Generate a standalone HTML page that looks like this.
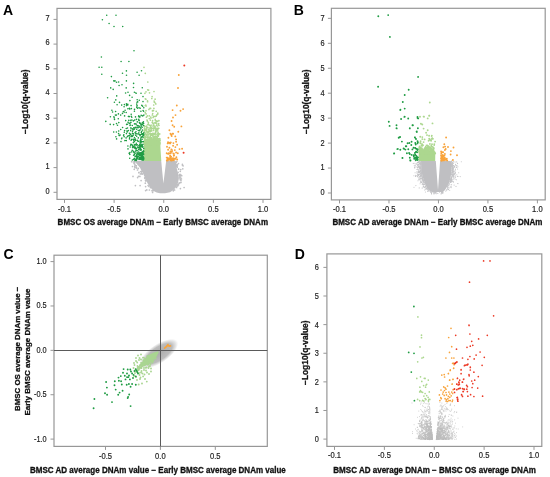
<!DOCTYPE html><html><head><meta charset="utf-8"><style>html,body{margin:0;padding:0;background:#fff;width:550px;height:477px;overflow:hidden}svg{display:block;will-change:transform}text{font-family:"Liberation Sans", sans-serif}</style></head><body>
<svg width="550" height="477" viewBox="0 0 550 477">
<rect width="550" height="477" fill="#fff"/>
<polygon fill="#bfbfc2" points="134.8,160.8 136.4,163.5 138.6,166.0 140.2,168.0 141.5,171.0 142.8,173.1 144.2,176.0 145.4,179.0 146.9,182.0 148.4,184.8 150.4,187.6 152.6,189.9 154.6,191.4 156.6,192.4 160.0,193.2 165.0,193.2 170.0,192.2 173.8,189.8 176.4,186.5 178.0,183.0 178.8,179.0 178.6,175.0 177.4,171.0 176.2,166.0 175.8,160.8 166.2,160.8 163.4,183.5 161.2,160.8"/>
<path stroke="#bfbfc2" stroke-width="1.70" stroke-linecap="round" fill="none" d="M133.0 176.4h0M137.6 177.6h0M139.9 176.4h0M141.1 180.6h0M135.4 185.6h0M140.1 185.6h0M146.8 189.9h0M152.6 192.4h0M176.9 161.3h0M178.5 163.6h0M182.4 164.3h0M180.8 169.5h0M178.6 169.2h0M182.8 168.8h0M177.5 175.0h0M180.0 176.5h0M181.0 180.5h0M179.0 183.5h0M180.4 188.6h0M184.1 187.5h0M133.5 162.0h0M134.0 163.5h0M135.0 165.5h0M136.5 167.5h0M132.5 166.5h0M137.5 170.0h0M139.0 172.5h0M134.9 164.4h0M176.6 166.3h0M180.2 179.7h0M141.6 171.5h0M177.4 165.8h0M177.2 167.3h0M142.1 173.7h0M138.5 176.3h0M176.4 165.1h0M144.9 178.2h0M181.0 182.4h0M181.7 175.7h0M145.6 186.6h0M144.7 177.9h0M136.4 165.8h0M134.7 166.7h0M141.4 173.1h0M180.8 175.4h0M134.8 162.4h0M176.9 186.0h0M138.3 168.4h0M179.7 174.6h0M174.2 189.8h0M180.7 174.9h0M149.4 190.0h0M176.6 165.2h0M182.5 165.2h0M134.8 161.7h0M173.3 190.8h0M135.6 165.6h0M138.8 172.7h0M145.4 180.1h0M178.7 169.0h0M141.7 173.9h0M180.7 177.8h0M178.1 172.3h0M179.0 183.2h0M145.3 183.2h0M179.4 175.7h0M176.3 187.4h0M136.5 168.1h0M134.9 167.6h0M176.6 187.4h0M179.9 182.8h0M180.0 174.3h0M176.0 162.7h0M145.9 181.1h0M134.2 169.3h0M177.7 184.6h0M148.9 186.3h0M153.5 190.6h0M176.3 162.6h0M177.2 164.6h0M150.4 187.6h0M181.4 178.9h0M140.6 171.5h0M180.3 171.3h0M134.2 161.1h0M131.6 161.7h0M183.1 165.8h0M142.3 174.1h0M140.4 174.0h0M152.0 190.7h0M146.1 180.6h0M145.6 190.6h0M177.6 185.9h0M148.1 185.5h0M179.3 177.9h0M174.6 190.0h0M178.4 184.9h0"/>
<polygon fill="#acd78f" points="143.9,160.9 143.9,141.0 145.5,139.0 147.0,141.0 149.0,138.0 151.0,140.0 153.0,137.5 155.0,139.5 156.5,137.0 158.0,139.0 159.6,138.0 160.2,142.0 160.6,150.0 161.3,160.9"/>
<path stroke="#acd78f" stroke-width="1.70" stroke-linecap="round" fill="none" d="M149.0 142.7h0M155.6 127.9h0M146.0 126.3h0M152.6 144.3h0M151.7 133.8h0M159.8 138.7h0M155.5 139.5h0M150.1 143.6h0M156.4 130.2h0M156.7 123.8h0M151.1 143.7h0M158.0 132.8h0M146.7 129.6h0M150.4 143.0h0M150.5 142.9h0M147.4 139.6h0M144.6 134.8h0M149.9 141.5h0M154.9 143.1h0M155.7 131.7h0M150.6 133.5h0M147.1 137.4h0M146.2 106.0h0M157.4 135.5h0M159.3 139.0h0M154.4 102.2h0M154.2 134.6h0M155.5 143.5h0M150.1 127.3h0M147.6 132.8h0M158.3 133.7h0M144.4 131.9h0M152.5 111.0h0M157.7 142.7h0M155.9 143.4h0M160.1 140.3h0M144.1 137.0h0M150.0 139.0h0M146.5 131.9h0M152.0 134.5h0M147.5 100.9h0M153.9 108.4h0M158.1 132.4h0M144.6 138.5h0M155.4 128.1h0M146.3 139.6h0M148.0 140.9h0M155.4 140.9h0M144.2 130.7h0M153.4 134.5h0M148.9 109.4h0M157.8 113.0h0M145.8 143.6h0M158.4 136.1h0M158.2 128.3h0M155.5 136.1h0M151.5 127.7h0M155.1 141.0h0M158.2 144.7h0M157.2 138.5h0M153.1 143.0h0M155.7 143.1h0M144.4 126.8h0M148.3 142.9h0M155.8 103.9h0M151.5 129.0h0M144.4 134.9h0M153.9 125.0h0M147.7 89.8h0M150.1 128.6h0M151.9 141.3h0M148.4 140.5h0M152.1 96.6h0M155.1 116.4h0M150.2 139.3h0M145.3 98.8h0M150.8 126.1h0M152.6 142.0h0M146.7 134.9h0M153.5 128.0h0M153.8 138.3h0M148.5 141.6h0M144.8 140.0h0M155.1 116.3h0M152.9 126.0h0M155.4 133.2h0M147.6 101.7h0M144.2 125.9h0M150.2 142.8h0M156.0 143.0h0M158.9 120.7h0M148.6 90.1h0M146.9 127.1h0M159.9 143.2h0M146.5 126.9h0M155.2 119.3h0M147.2 120.4h0M144.4 128.7h0M154.4 139.2h0M149.2 125.1h0M146.5 141.0h0M156.1 131.4h0M151.5 140.7h0M154.8 102.4h0M145.5 142.8h0M148.8 131.3h0M153.0 135.2h0M146.9 131.1h0M152.0 142.4h0M151.9 144.4h0M149.9 108.3h0M147.8 139.7h0M154.8 138.4h0M148.1 140.3h0M150.4 135.5h0M144.7 137.3h0M157.3 137.3h0M151.9 139.1h0M149.2 137.6h0M159.0 125.3h0M156.2 111.3h0M156.0 140.9h0M147.0 139.7h0M156.9 137.2h0M152.7 113.6h0M157.5 126.0h0M149.6 131.2h0M149.3 115.8h0M152.2 141.7h0M147.3 120.9h0M156.5 142.0h0M154.0 126.0h0M153.3 140.4h0M156.7 136.7h0M145.5 137.5h0M154.1 143.6h0M144.9 93.3h0M156.0 123.2h0M155.4 143.2h0M150.7 141.7h0M157.9 144.5h0M149.3 130.7h0M145.3 140.9h0M147.6 124.6h0M150.2 140.3h0M157.7 130.8h0M146.4 126.1h0M148.2 134.1h0M149.8 141.0h0M146.2 134.1h0M146.7 140.9h0M147.7 139.5h0M153.0 136.4h0M145.6 139.9h0M155.6 129.9h0M156.9 120.8h0M153.5 141.9h0M150.1 142.0h0M153.2 136.9h0M147.4 115.9h0M159.7 144.5h0M151.2 143.2h0M148.5 137.9h0M149.4 143.0h0M155.2 142.3h0M150.0 139.1h0M154.0 133.3h0M151.0 118.1h0M145.3 105.6h0M152.7 141.3h0M158.4 124.2h0M156.2 116.1h0M145.5 139.3h0M153.2 144.4h0M157.8 113.9h0M145.8 105.0h0M153.9 128.7h0M148.6 143.7h0M158.7 123.6h0M158.8 128.3h0M150.4 125.6h0M157.3 137.0h0M152.6 120.7h0M151.1 125.2h0M155.9 132.1h0M148.2 140.6h0M156.0 134.3h0M156.8 129.3h0M144.5 142.8h0M155.4 143.0h0M156.1 138.8h0M149.3 143.5h0M154.1 101.1h0M150.6 108.4h0M150.3 130.9h0M155.5 122.8h0M153.7 105.0h0M148.0 136.5h0M153.9 108.3h0M157.5 133.8h0M151.4 144.6h0M151.8 98.5h0M150.3 136.8h0M145.3 142.4h0M151.7 135.1h0M148.3 124.0h0M149.3 118.5h0M152.2 122.4h0M153.6 130.4h0M151.6 143.2h0M144.5 141.1h0M146.9 134.8h0M144.2 138.5h0M148.7 140.3h0M158.8 144.4h0M157.8 129.2h0M145.5 140.6h0M154.4 136.9h0M150.8 117.0h0M149.9 133.9h0M150.3 120.1h0M148.2 135.0h0M154.2 122.9h0M147.0 120.1h0M152.5 135.4h0M147.6 132.1h0M145.9 99.2h0M157.2 144.8h0M144.5 130.7h0M145.1 141.9h0M150.8 138.6h0M159.0 143.7h0M156.1 129.0h0M145.9 129.1h0M152.5 110.5h0M151.6 137.6h0M151.4 131.0h0M159.9 138.9h0M153.5 110.6h0M151.5 140.0h0M153.9 127.9h0M146.1 113.9h0M146.2 134.4h0M144.7 129.8h0M145.4 133.3h0M152.5 128.5h0M150.9 138.7h0M155.0 133.8h0M145.3 136.9h0M148.3 122.4h0M151.8 128.1h0M155.0 126.6h0M147.2 142.6h0M153.6 116.4h0M160.1 142.9h0M148.5 132.5h0M158.3 135.8h0M146.5 128.3h0M144.1 136.8h0M143.9 142.7h0M150.3 144.4h0M146.0 136.0h0M153.3 134.0h0M159.7 133.9h0M149.5 140.7h0M151.8 130.8h0M149.6 142.0h0M146.9 143.3h0M145.2 112.7h0M148.4 122.6h0M157.6 121.3h0M158.0 138.8h0M153.2 140.8h0M156.3 143.2h0M156.0 141.9h0M149.4 137.7h0M149.8 133.4h0M158.7 134.7h0M158.1 144.1h0M158.2 140.3h0M148.7 131.5h0M149.9 137.9h0M145.2 130.4h0M155.2 137.5h0M148.7 129.6h0M159.7 141.4h0M153.6 136.9h0M158.3 138.6h0M151.9 139.8h0M146.3 140.3h0M150.3 134.9h0M145.4 143.7h0M159.1 141.8h0M151.5 143.8h0M147.9 132.0h0M153.1 117.4h0M150.4 140.2h0M155.1 99.2h0M149.8 133.6h0M147.2 143.5h0M153.0 123.7h0M157.3 128.4h0M147.9 127.6h0M150.4 144.2h0M150.5 131.4h0M147.5 132.3h0M156.8 114.9h0M156.4 125.5h0M145.9 130.3h0M146.4 117.2h0M149.8 143.0h0M156.7 121.4h0M150.9 130.3h0M152.0 133.9h0M145.3 136.7h0M151.2 143.5h0M156.3 121.7h0M146.2 144.7h0M155.3 120.4h0M151.0 141.8h0M145.7 142.3h0M152.3 115.0h0M152.7 133.3h0M153.6 138.5h0M152.7 144.3h0M146.0 110.7h0M149.1 129.0h0M157.7 143.7h0M144.9 138.7h0M151.4 134.0h0M144.0 67.3h0M145.3 73.3h0M147.8 82.0h0M154.0 91.5h0M146.0 91.8h0M149.5 92.8h0"/>
<path stroke="#1f9c43" stroke-width="1.60" stroke-linecap="round" fill="none" d="M128.3 130.6h0M129.8 123.4h0M138.3 137.9h0M143.0 144.4h0M138.3 147.5h0M142.7 157.7h0M141.3 152.5h0M129.6 137.8h0M138.1 127.8h0M140.0 129.9h0M133.6 146.9h0M135.1 153.5h0M138.3 138.0h0M135.5 116.9h0M141.6 134.0h0M135.6 140.4h0M142.4 151.7h0M143.7 134.3h0M132.7 128.9h0M140.9 111.3h0M139.2 130.7h0M138.8 116.4h0M136.5 159.6h0M137.1 152.9h0M136.5 155.3h0M142.8 160.1h0M134.1 152.7h0M139.8 144.5h0M137.9 147.7h0M128.5 116.5h0M126.9 131.0h0M140.0 146.8h0M126.3 140.6h0M120.7 129.5h0M143.0 160.2h0M141.8 157.7h0M118.8 122.6h0M129.8 109.1h0M132.2 150.4h0M131.7 135.9h0M141.3 159.5h0M138.8 134.1h0M127.8 104.9h0M140.3 140.3h0M138.6 116.3h0M140.3 134.9h0M140.9 140.7h0M129.9 152.5h0M134.8 147.2h0M142.0 159.8h0M124.6 130.6h0M140.2 108.2h0M121.9 138.0h0M141.7 154.3h0M142.7 115.9h0M123.8 134.7h0M138.5 141.3h0M143.6 154.6h0M139.9 147.3h0M135.8 147.9h0M118.6 133.6h0M134.5 158.4h0M139.5 154.3h0M142.5 146.4h0M136.7 107.2h0M110.2 124.4h0M139.7 148.7h0M142.2 139.2h0M124.2 136.8h0M139.7 158.7h0M137.2 99.8h0M129.8 154.4h0M134.5 123.9h0M113.6 124.6h0M128.8 120.4h0M136.4 150.4h0M140.3 141.4h0M134.3 141.6h0M141.8 136.7h0M142.9 146.9h0M137.0 158.4h0M117.5 125.2h0M121.0 141.6h0M138.0 154.0h0M131.4 108.6h0M142.5 155.0h0M131.2 114.2h0M143.3 156.8h0M143.6 135.5h0M136.1 159.9h0M139.9 158.3h0M140.8 146.8h0M142.7 153.4h0M116.5 123.6h0M136.2 159.0h0M136.1 150.4h0M139.7 146.1h0M131.1 140.3h0M129.9 133.9h0M140.1 135.7h0M118.7 131.0h0M133.9 146.5h0M136.7 129.3h0M142.4 136.2h0M127.5 128.0h0M130.7 134.4h0M141.2 154.0h0M123.6 135.5h0M126.2 112.5h0M130.6 130.6h0M138.6 147.2h0M131.7 152.0h0M142.5 133.7h0M143.4 154.3h0M137.1 153.8h0M143.9 158.1h0M142.3 147.2h0M140.8 153.9h0M136.4 160.4h0M140.0 159.3h0M121.6 138.7h0M142.4 124.5h0M134.6 145.1h0M127.8 104.2h0M129.9 100.6h0M134.7 128.8h0M132.4 160.0h0M139.6 157.6h0M140.0 144.3h0M135.1 132.5h0M135.1 147.1h0M139.3 126.9h0M138.6 149.4h0M140.5 154.1h0M130.6 145.2h0M136.4 155.6h0M136.5 119.4h0M140.6 148.6h0M140.8 146.2h0M137.3 144.9h0M135.0 156.2h0M135.3 127.4h0M143.3 141.5h0M136.3 156.6h0M140.8 124.9h0M137.8 158.8h0M136.7 136.2h0M133.1 135.5h0M126.2 128.5h0M125.1 110.2h0M140.0 152.7h0M131.3 116.3h0M141.7 131.5h0M133.8 127.7h0M129.9 136.0h0M128.0 122.3h0M141.8 105.4h0M141.6 134.3h0M137.9 153.2h0M141.2 125.2h0M136.3 157.0h0M132.5 131.5h0M140.5 142.7h0M141.8 157.7h0M122.6 127.5h0M135.1 159.8h0M143.9 115.1h0M138.1 156.3h0M140.9 128.5h0M136.4 148.5h0M142.8 146.5h0M136.5 119.2h0M142.1 141.7h0M130.9 127.9h0M142.5 153.3h0M139.9 146.9h0M132.2 136.4h0M129.1 123.3h0M133.8 140.6h0M131.7 139.5h0M137.3 140.3h0M140.8 153.4h0M135.5 151.7h0M140.9 158.9h0M136.7 104.1h0M136.0 150.5h0M143.1 110.5h0M143.6 159.4h0M139.9 149.1h0M139.1 153.7h0M140.3 147.3h0M138.4 154.5h0M134.8 144.6h0M139.8 134.9h0M133.4 142.6h0M137.6 147.0h0M127.4 136.6h0M140.5 123.2h0M134.4 154.6h0M141.1 149.9h0M134.5 109.4h0M143.6 111.2h0M126.1 137.9h0M139.9 116.9h0M142.7 106.3h0M143.4 157.1h0M135.0 160.2h0M125.7 120.6h0M128.4 116.5h0M133.0 130.1h0M142.9 159.0h0M134.6 139.5h0M133.6 159.2h0M141.8 158.5h0M139.4 122.5h0M142.4 156.5h0M142.0 156.4h0M140.5 146.1h0M143.7 158.8h0M142.0 156.8h0M143.5 159.1h0M130.9 144.2h0M133.6 151.2h0M143.4 152.0h0M134.4 111.3h0M140.5 127.3h0M129.1 153.3h0M143.4 121.7h0M131.8 117.3h0M137.0 102.3h0M143.1 156.5h0M130.7 120.2h0M143.2 135.0h0M140.2 155.4h0M140.2 150.3h0M133.5 139.3h0M129.5 138.9h0M139.6 123.2h0M137.1 133.9h0M139.1 116.9h0M139.4 130.8h0M140.3 157.6h0M140.5 155.6h0M135.0 160.6h0M137.3 125.6h0M141.1 137.4h0M142.0 153.3h0M138.6 156.7h0M137.7 101.9h0M134.1 152.5h0M143.7 148.6h0M127.9 146.0h0M143.0 101.6h0M132.5 136.3h0M142.9 134.8h0M143.2 154.5h0M132.6 147.6h0M132.5 133.4h0M140.0 142.8h0M141.5 137.3h0M131.1 128.7h0M130.9 122.4h0M126.5 105.6h0M120.1 135.0h0M138.8 119.4h0M132.5 145.8h0M141.2 126.7h0M142.0 158.6h0M134.2 145.0h0M119.6 135.5h0M142.1 153.9h0M135.8 133.6h0M131.9 120.0h0M140.8 140.4h0M138.1 125.8h0M129.4 133.3h0M141.4 149.9h0M127.4 124.3h0M137.1 105.6h0M134.3 129.3h0M142.8 133.9h0M140.9 159.3h0M143.5 150.8h0M143.8 107.8h0M141.2 159.6h0M132.5 145.9h0M132.1 97.2h0M130.4 125.0h0M129.3 135.7h0M141.8 155.4h0M142.4 122.8h0M140.3 149.5h0M141.9 124.1h0M143.6 154.1h0M141.0 146.4h0M137.5 108.3h0M119.1 135.4h0M134.5 137.6h0M143.6 123.4h0M129.4 108.3h0M140.5 154.9h0M136.6 156.3h0M143.8 132.9h0M141.9 124.4h0M136.9 127.4h0M136.8 154.6h0M135.9 144.9h0M141.2 115.4h0M143.7 151.4h0M132.9 133.7h0M142.4 159.9h0M140.7 138.9h0M136.9 156.9h0M127.9 108.8h0M143.7 158.3h0M127.2 131.9h0M142.4 130.1h0M126.6 124.4h0M129.6 95.4h0M132.3 125.5h0M130.2 147.0h0M140.6 155.4h0M143.0 133.8h0M133.6 133.9h0M134.4 147.9h0M128.0 148.9h0M116.4 132.0h0M139.0 126.1h0M139.6 144.7h0M136.0 131.7h0M142.9 158.2h0M143.3 157.7h0M128.2 135.7h0M115.9 136.8h0M126.4 103.7h0M135.6 135.3h0M139.3 100.2h0M143.5 125.5h0M116.6 138.9h0M138.9 159.2h0M143.2 152.9h0M136.6 145.0h0M126.7 104.5h0M137.3 121.9h0M133.7 151.9h0M129.7 158.3h0M141.2 157.1h0M130.0 125.4h0M139.9 155.1h0M136.3 143.2h0M139.5 155.5h0M141.3 132.4h0M134.7 120.1h0M142.0 146.6h0M142.2 145.3h0M126.4 133.6h0M131.9 139.4h0M124.3 132.2h0M143.1 137.3h0M138.8 120.5h0M133.4 120.9h0M142.2 127.3h0M138.8 132.9h0M141.3 158.8h0M140.5 158.7h0M131.1 105.6h0M141.0 142.9h0M139.4 158.4h0M139.8 147.4h0M143.0 96.6h0M137.6 150.7h0M141.1 141.1h0M138.9 145.5h0M124.9 140.6h0M136.1 124.5h0M135.9 123.8h0M139.0 107.7h0M135.5 148.8h0M131.9 144.6h0M135.4 139.1h0M140.7 145.0h0M137.5 157.5h0M133.6 155.2h0M139.9 158.7h0M139.2 120.5h0M131.4 136.4h0M113.7 132.0h0M143.2 160.3h0M137.0 106.1h0M141.5 144.7h0M138.0 141.5h0M143.0 156.5h0M138.7 152.0h0M137.3 156.0h0M140.2 142.8h0M129.4 116.6h0M131.6 151.8h0M141.1 145.5h0M138.3 130.5h0M138.8 115.9h0M106.7 15.3h0M116.0 15.3h0M102.4 19.8h0M109.1 23.5h0M114.0 26.5h0M122.7 26.5h0M134.0 50.7h0M101.4 57.0h0M121.1 61.5h0M128.9 61.5h0M99.1 67.3h0M101.8 67.3h0M101.8 74.3h0M126.4 70.9h0M122.5 73.2h0M126.5 75.2h0M137.1 72.3h0M139.1 75.2h0M111.4 76.6h0M113.8 80.9h0M115.0 80.9h0M116.5 82.3h0M118.6 82.0h0M126.4 80.9h0M133.6 83.4h0M119.1 85.5h0M122.0 84.8h0M110.7 87.9h0M113.2 89.4h0M126.2 87.9h0M133.5 87.5h0M125.6 93.0h0M128.0 92.3h0M134.4 92.3h0M136.2 93.2h0M141.5 70.8h0M142.3 87.8h0M135.8 93.0h0M141.0 93.3h0M107.6 97.8h0M116.7 95.9h0M115.8 99.9h0M114.4 102.2h0M119.5 102.4h0M117.1 104.7h0M121.7 105.1h0M124.4 104.6h0M124.1 106.8h0M111.9 110.2h0M112.6 112.0h0M115.6 111.5h0M123.3 111.5h0M124.2 112.1h0M122.5 113.4h0M118.4 113.9h0M116.4 115.1h0M115.4 115.1h0M120.7 115.1h0M124.6 115.9h0M110.4 116.8h0M113.9 116.8h0M114.2 117.7h0M114.5 119.4h0M118.3 118.7h0M105.8 121.4h0"/>
<path stroke="#f8a33a" stroke-width="1.90" stroke-linecap="round" fill="none" d="M178.8 75.0h0M178.0 88.0h0M176.8 105.5h0M172.6 110.1h0M180.5 110.8h0M183.1 109.1h0M175.5 115.1h0M173.0 117.5h0M171.6 121.0h0M172.6 125.2h0M174.2 126.7h0M181.4 126.4h0M169.4 130.2h0M178.3 131.7h0M170.5 133.7h0M172.6 133.7h0M171.1 134.7h0M171.7 136.0h0M173.1 133.7h0M175.3 136.4h0M168.4 137.7h0M176.1 139.4h0M176.1 141.7h0M167.7 143.4h0M169.1 142.8h0M170.1 143.4h0M173.4 143.1h0M173.1 145.8h0M177.1 144.8h0M167.0 146.8h0M169.4 147.8h0M175.4 147.1h0M179.5 149.1h0M182.1 148.7h0M168.1 149.8h0M171.4 149.5h0M172.1 150.1h0M174.8 150.1h0M170.4 151.5h0M166.7 153.2h0M168.7 153.2h0M170.7 153.2h0M173.8 153.8h0M176.1 152.5h0M177.8 153.2h0M174.1 155.2h0M176.4 157.2h0M168.0 142.3h0M170.8 142.4h0M172.0 151.8h0M175.5 158.8h0M177.2 159.5h0M167.3 159.8h0M171.4 160.5h0M171.9 159.8h0M173.2 159.5h0M169.8 159.7h0M166.8 160.5h0M168.6 158.7h0M168.0 158.9h0M170.1 157.3h0M168.0 160.2h0M169.4 159.0h0M172.9 158.3h0M173.3 158.5h0M170.3 156.9h0M171.7 160.5h0M170.5 159.3h0M173.8 155.7h0M170.1 155.7h0M170.4 160.0h0M170.5 160.2h0M167.4 160.1h0M169.1 153.5h0M170.7 158.1h0M167.3 158.0h0M169.8 159.8h0M174.2 159.0h0M173.9 158.4h0M173.3 153.6h0M172.3 160.2h0M171.7 158.5h0M170.0 153.2h0M168.2 159.1h0M171.1 159.7h0M172.9 158.4h0M168.2 153.9h0M166.7 157.6h0M174.1 159.3h0M167.7 159.4h0M171.1 156.8h0M169.9 158.8h0M167.6 157.6h0M167.6 160.6h0M173.9 160.3h0M173.4 160.0h0M172.0 159.9h0"/>
<path stroke="#ec3a26" stroke-width="2.00" stroke-linecap="round" fill="none" d="M184.3 65.4h0M183.6 152.8h0"/>
<path stroke="#c3c3c6" stroke-width="1.10" stroke-linecap="round" fill="none" d="M423.1 184.7h0M417.5 167.3h0M423.7 182.0h0M450.9 182.4h0M450.8 179.7h0M420.8 169.2h0M448.4 189.6h0M422.1 175.2h0M424.0 183.0h0M452.2 172.5h0M453.0 181.2h0M450.8 178.1h0M448.1 187.2h0M452.2 175.8h0M422.8 177.3h0M449.0 184.0h0M447.7 186.2h0M451.6 180.6h0M418.4 161.8h0M455.1 175.3h0M417.8 168.0h0M452.9 166.7h0M419.5 171.2h0M415.7 175.4h0M450.7 179.9h0M422.4 178.3h0M420.0 167.2h0M451.9 176.6h0M420.8 178.2h0M420.8 181.3h0M452.3 167.3h0M420.5 164.4h0M448.2 185.4h0M424.4 187.6h0M421.3 169.1h0M451.0 180.0h0M419.7 170.7h0M424.7 190.0h0M436.1 192.3h0M418.2 175.8h0M454.9 172.1h0M450.7 178.7h0M422.0 174.6h0M451.4 166.5h0M453.0 167.5h0M451.2 177.6h0M442.8 193.0h0M417.9 164.6h0M417.5 176.7h0M421.7 181.0h0M423.6 186.5h0M454.5 167.2h0M454.2 173.5h0M451.1 181.4h0M420.8 167.0h0M427.3 188.4h0M452.9 173.2h0M452.0 162.9h0M450.4 182.5h0M453.2 169.6h0M449.7 181.5h0M425.6 186.3h0M420.7 165.1h0M421.1 167.2h0M452.7 175.3h0M428.3 191.1h0M448.1 185.5h0M452.4 174.3h0M452.1 171.4h0M421.3 169.8h0M422.6 183.1h0M447.6 186.2h0M454.2 178.0h0M426.0 187.5h0M413.3 163.4h0M420.3 168.6h0M427.3 189.3h0M420.5 162.9h0M414.6 167.4h0M420.5 170.4h0M422.1 188.0h0M451.8 172.8h0M455.1 179.1h0M457.9 166.7h0M457.6 163.4h0M431.1 192.4h0M451.8 162.8h0M451.3 165.1h0M420.3 161.6h0M420.2 164.9h0M417.1 169.4h0M453.5 171.4h0M456.8 174.8h0M422.8 181.0h0M452.1 177.8h0M434.6 193.0h0M420.6 162.0h0M452.2 162.8h0M451.9 170.4h0M453.4 172.5h0M447.9 185.2h0M414.0 187.3h0M451.6 179.6h0M423.7 180.3h0M415.4 165.3h0M451.8 180.7h0M419.4 176.2h0M423.0 179.1h0M420.9 167.4h0M421.1 173.5h0M457.7 183.5h0M420.3 173.2h0M451.8 172.0h0M423.3 179.2h0M416.1 166.9h0M422.5 179.6h0M420.1 180.1h0M452.4 165.9h0M418.7 177.9h0M428.2 190.3h0M450.7 181.0h0M451.6 165.1h0M453.1 176.4h0M418.0 162.8h0M451.8 172.4h0M426.0 186.4h0M419.2 161.7h0M419.2 162.5h0M449.7 182.0h0M453.3 170.7h0M434.0 193.9h0M427.6 189.8h0M453.4 173.3h0M418.5 172.3h0M421.4 171.4h0M414.9 163.2h0M451.6 174.3h0M421.1 169.9h0M419.2 164.9h0M454.5 166.3h0M448.7 183.8h0M416.1 164.1h0M451.8 174.8h0M430.5 191.9h0M451.2 164.2h0M451.8 173.2h0M419.6 163.5h0M420.9 171.7h0M421.1 168.3h0M421.8 174.7h0M454.1 185.1h0M449.7 190.2h0M418.8 179.6h0M451.7 169.9h0M422.3 179.2h0M420.1 161.2h0M451.3 165.1h0M417.8 164.4h0M421.2 171.5h0M453.4 177.1h0M448.5 189.2h0M420.7 176.3h0M455.7 165.7h0M423.3 181.2h0M420.1 183.8h0M454.1 171.2h0M421.0 166.2h0M449.0 188.1h0M418.6 175.6h0M447.9 186.9h0M451.5 162.1h0M422.0 175.2h0M455.1 173.5h0M416.9 171.7h0M434.7 192.2h0M441.5 192.2h0M453.7 176.9h0M453.1 174.7h0M418.1 166.5h0M455.5 170.0h0M420.9 173.4h0M453.5 169.1h0M422.5 178.3h0M434.3 192.8h0M456.4 179.7h0M452.8 162.5h0M456.8 167.3h0M450.8 181.7h0M453.4 166.7h0M452.3 174.5h0M423.3 186.1h0M421.8 175.0h0M418.2 171.6h0M423.6 181.5h0M456.7 161.9h0M419.4 162.1h0M423.3 186.4h0M446.7 190.2h0M450.4 180.1h0M452.3 166.6h0M410.0 161.2h0M447.8 187.5h0M419.9 171.6h0M417.8 174.4h0M452.0 161.1h0M423.0 181.3h0M418.6 174.0h0M426.4 188.8h0M420.8 163.4h0M454.5 166.0h0M418.5 164.4h0M453.1 169.4h0M419.0 166.9h0M415.1 172.8h0M453.3 176.2h0M418.6 162.4h0M451.3 179.2h0M452.3 166.6h0M423.2 182.1h0M425.7 186.3h0M421.3 175.1h0M453.3 170.8h0M420.6 171.3h0M452.1 169.1h0M421.1 169.9h0M451.4 165.4h0M453.2 167.3h0M425.8 187.3h0M446.7 189.9h0M450.7 179.2h0M442.1 192.6h0M452.1 162.8h0M453.7 161.6h0M450.3 179.4h0M422.2 177.2h0M422.7 180.2h0M452.3 168.4h0M457.4 176.2h0M456.0 186.4h0M418.0 169.8h0M421.4 170.1h0M420.6 168.5h0M457.1 165.2h0M418.0 180.8h0M423.2 182.9h0M419.2 187.9h0M452.4 170.0h0M451.7 173.0h0M436.2 193.7h0M423.0 179.7h0M419.4 164.9h0M451.5 180.8h0M452.1 163.0h0M452.1 165.1h0M429.9 191.2h0M452.4 174.4h0M455.1 162.0h0M453.5 182.1h0M421.8 172.7h0M445.8 191.1h0M451.6 164.2h0M420.5 163.3h0M418.9 169.3h0M420.4 182.1h0M426.8 188.4h0M425.2 184.7h0M451.6 184.7h0M451.1 184.7h0M421.0 175.5h0M421.4 169.7h0M453.5 179.0h0M452.9 181.3h0M431.6 193.9h0M452.8 168.7h0M452.9 172.6h0M420.4 168.2h0M423.2 184.2h0M451.8 179.1h0M416.9 169.5h0M415.9 185.6h0M426.4 187.7h0M421.1 169.7h0M447.0 189.2h0M420.1 179.1h0M415.5 176.4h0M452.0 172.8h0M454.1 170.9h0M447.9 186.0h0M443.1 192.3h0M458.7 172.8h0M420.2 173.8h0M452.5 164.4h0M452.9 165.1h0M419.1 162.8h0M439.7 192.3h0M420.9 178.6h0M414.8 166.7h0M421.1 171.2h0M418.8 166.1h0M414.3 165.2h0M452.0 167.3h0M425.8 188.2h0M418.8 162.7h0M421.3 166.9h0M452.6 167.4h0M421.5 174.9h0M442.8 192.4h0M433.0 192.5h0M452.8 171.6h0M418.1 165.7h0M419.5 172.4h0M419.3 174.5h0M437.8 193.4h0M424.1 184.4h0M423.4 180.3h0M421.6 178.2h0M416.9 173.0h0M451.8 170.5h0M452.3 170.9h0M451.5 164.6h0M421.1 163.7h0M422.8 177.7h0M452.8 169.5h0M453.0 167.1h0M420.3 175.9h0M417.8 175.5h0M423.9 181.0h0M449.5 183.7h0M422.1 179.2h0M451.1 163.5h0M453.6 165.5h0M451.2 178.0h0M422.5 180.7h0M461.3 161.8h0M454.8 174.5h0M450.5 178.7h0M431.3 192.4h0M421.2 171.2h0M452.1 171.8h0M418.0 172.5h0M434.8 192.2h0M450.2 180.1h0M425.2 186.7h0M450.5 179.2h0M421.2 169.6h0M421.3 168.5h0M417.4 165.1h0M453.1 163.5h0M421.9 179.3h0M421.3 172.2h0M422.4 176.6h0M419.8 173.9h0M452.5 170.4h0M417.3 176.0h0M422.4 176.4h0M450.0 181.4h0M420.5 172.1h0M421.2 164.9h0M449.1 184.9h0M426.6 188.1h0M458.0 176.5h0M427.7 191.5h0M460.2 176.6h0M424.4 182.6h0M420.5 163.1h0M431.5 192.8h0M420.7 168.6h0M452.9 175.6h0M423.2 178.9h0M414.7 167.9h0M451.5 168.1h0M423.8 187.1h0M447.6 186.8h0M456.3 167.4h0M453.8 174.6h0M419.4 171.7h0M419.5 163.5h0M419.4 171.7h0M451.6 164.1h0M419.1 179.6h0M426.4 189.0h0M452.6 170.5h0M423.4 179.2h0M418.4 167.2h0M421.6 175.0h0M416.2 175.8h0M452.0 181.7h0M447.4 188.1h0M420.7 178.4h0M420.7 172.5h0M451.3 166.1h0M421.0 172.3h0M419.7 163.5h0M425.4 192.0h0M423.6 181.7h0M431.4 193.3h0M421.6 174.2h0M415.4 160.9h0M419.5 178.0h0M442.8 193.4h0M422.4 184.3h0M420.7 164.2h0M457.6 169.0h0M441.3 193.3h0M420.1 166.8h0M425.1 186.2h0M451.2 187.6h0M425.2 189.5h0M421.2 168.2h0M455.4 172.9h0M455.6 164.4h0M421.7 176.2h0M451.2 161.8h0M452.4 165.1h0M416.8 163.8h0M418.3 162.3h0M424.8 184.3h0M422.0 178.2h0M451.5 174.5h0M455.5 177.2h0M417.9 166.7h0M449.1 183.8h0M455.3 172.0h0M452.4 170.6h0M436.1 192.8h0M447.6 186.0h0M435.5 192.8h0M451.5 173.1h0M441.1 193.9h0M434.3 192.9h0M452.8 169.4h0M450.0 180.0h0M421.2 172.4h0M451.1 178.2h0M417.3 162.4h0M455.3 169.1h0M454.0 167.1h0M420.7 165.8h0M425.8 186.2h0M418.7 171.8h0M451.3 174.9h0M421.9 177.3h0M452.1 165.2h0M451.1 180.1h0M422.4 178.2h0M433.5 192.7h0M424.6 182.7h0M433.9 193.3h0M423.7 184.7h0M420.5 163.5h0M420.8 163.2h0M417.5 174.1h0M421.2 182.5h0M422.4 188.0h0M452.3 171.6h0M420.7 168.4h0M451.6 162.2h0M421.8 176.4h0M416.6 164.0h0M452.2 179.3h0M447.4 189.0h0M422.1 184.0h0M453.4 174.5h0M420.4 170.9h0M418.6 172.5h0M450.1 187.1h0M422.3 175.3h0M458.0 183.6h0M451.3 177.4h0M452.3 165.8h0M420.4 174.9h0M453.5 176.9h0M420.1 177.1h0M451.1 186.5h0M419.2 162.2h0M420.3 171.4h0M418.5 170.7h0M453.0 165.0h0M420.3 168.7h0M456.5 165.8h0M431.4 192.8h0M419.5 167.9h0M423.3 179.7h0M421.4 173.4h0M455.1 176.5h0M453.3 163.3h0M420.4 171.4h0M419.7 168.9h0M452.3 170.4h0M436.0 193.6h0M421.3 173.4h0M451.3 164.4h0M452.3 163.5h0M421.5 172.2h0M421.5 182.4h0M453.4 175.4h0M451.4 165.7h0M451.3 180.3h0M428.5 189.9h0M451.5 180.2h0M451.8 161.6h0M453.4 168.4h0M418.3 174.7h0M421.6 173.8h0M420.6 173.6h0M419.8 166.5h0M452.0 179.9h0M413.9 175.8h0M421.5 173.7h0M451.1 174.7h0M451.7 160.9h0M424.7 184.3h0M451.6 180.5h0M442.4 192.6h0M418.9 161.2h0M452.2 165.3h0M420.3 176.7h0M452.5 170.1h0M422.2 174.3h0M451.2 176.8h0"/>
<polygon fill="#bfbfc2" points="421.0,160.9 421.2,166.0 421.6,171.4 422.8,177.0 424.5,182.3 425.8,185.5 427.4,188.5 429.2,190.6 431.8,192.1 443.0,192.1 445.0,190.0 446.6,187.5 448.0,185.0 449.3,182.3 450.7,177.0 451.4,171.4 451.3,165.0 450.8,160.9 440.1,160.9 438.0,189.9 435.8,160.9"/>
<polygon fill="#acd78f" points="418.7,160.9 418.7,152.0 420.0,150.5 422.0,151.5 424.0,149.5 426.0,151.0 428.0,149.0 430.0,150.5 432.0,149.5 434.0,151.0 435.3,153.0 435.2,160.9"/>
<path stroke="#acd78f" stroke-width="1.90" stroke-linecap="round" fill="none" d="M429.8 102.5h0M423.6 116.6h0M427.7 118.4h0M429.1 115.7h0M420.9 123.8h0M422.3 124.5h0M432.5 123.4h0M423.6 128.6h0M427.7 130.2h0M426.1 132.7h0M427.0 135.1h0M429.1 135.7h0M431.8 135.7h0M420.2 136.8h0M422.3 137.1h0M432.9 138.8h0M420.0 116.8h0M424.0 116.8h0M429.3 115.7h0M420.2 142.9h0M424.1 153.1h0M426.4 149.1h0M431.2 148.7h0M419.7 146.7h0M424.6 139.4h0M432.3 146.9h0M430.5 147.4h0M431.3 145.8h0M431.5 138.9h0M431.8 151.4h0M426.5 145.4h0M420.5 147.4h0M428.5 151.3h0M420.9 151.3h0M434.2 145.1h0M423.0 152.2h0M428.8 152.5h0M432.3 151.3h0M427.4 148.7h0M424.7 148.3h0M433.6 150.0h0M425.9 150.8h0M419.9 149.0h0M424.2 149.1h0M431.1 140.7h0M430.5 150.5h0M422.1 145.9h0M419.1 151.3h0M425.8 152.3h0M428.0 148.3h0M426.5 152.8h0M426.6 147.8h0M427.9 146.9h0M431.5 149.2h0M428.5 153.9h0M420.0 149.7h0M425.5 149.5h0M426.2 151.8h0M434.3 144.1h0M430.6 148.3h0M431.4 153.1h0M421.5 152.5h0M434.2 153.7h0M426.3 147.6h0M423.5 150.6h0M430.6 152.2h0M428.6 152.7h0M424.8 150.9h0M435.0 153.2h0M433.9 151.5h0M433.8 148.3h0M422.3 139.1h0M419.3 152.0h0M420.0 152.0h0M421.1 150.3h0M432.3 153.6h0M421.5 145.5h0M428.6 140.7h0M421.2 148.9h0M431.7 136.1h0M430.4 152.5h0M428.5 151.2h0M421.3 148.7h0M429.7 149.3h0M422.7 150.7h0M434.4 153.6h0M427.5 150.7h0M434.7 153.1h0M419.5 147.0h0M423.0 150.1h0M431.3 151.6h0M418.9 151.7h0M423.0 153.4h0M428.6 152.6h0M428.7 146.1h0M423.0 145.3h0M427.2 150.3h0M420.6 141.3h0M428.7 150.1h0M428.8 146.4h0M421.2 154.0h0M422.1 144.1h0M434.5 154.0h0M425.1 150.9h0M432.1 150.1h0M425.6 148.8h0M429.7 139.8h0M425.3 149.3h0M425.5 150.1h0M429.9 143.9h0M435.1 141.6h0M419.7 149.8h0M423.9 150.7h0M421.8 150.3h0M432.0 144.2h0M433.4 148.6h0M433.1 153.4h0M435.2 153.2h0M421.6 149.3h0M434.6 152.3h0M433.2 153.2h0M419.3 147.5h0M429.0 146.8h0M430.9 150.5h0M420.6 150.3h0M419.4 150.9h0M433.4 147.4h0M427.4 145.4h0M420.5 148.2h0M422.1 149.0h0M422.1 151.7h0M434.1 153.2h0M433.5 151.2h0M426.9 152.3h0M421.8 148.2h0M419.6 146.4h0M429.0 148.0h0M420.4 152.6h0M433.4 151.2h0M427.9 149.2h0M429.9 153.9h0M420.4 151.2h0M427.8 148.9h0M429.8 154.0h0M432.2 138.1h0M421.0 151.1h0M428.0 151.7h0M427.2 147.4h0M428.4 153.1h0M421.5 153.2h0M429.8 153.2h0M428.2 148.8h0M420.6 143.2h0M419.7 150.5h0M425.5 153.6h0M425.7 146.9h0M430.7 154.0h0M423.7 152.8h0M430.9 148.8h0M427.2 153.6h0M431.8 151.7h0M428.2 152.3h0M432.7 149.0h0M429.7 149.3h0M421.0 151.6h0M429.2 138.6h0M423.6 142.1h0M427.5 150.6h0M420.3 152.7h0"/>
<path stroke="#1f9c43" stroke-width="1.90" stroke-linecap="round" fill="none" d="M378.3 16.2h0M388.2 15.1h0M389.9 36.9h0M418.1 76.9h0M378.1 86.7h0M408.7 89.8h0M404.7 95.0h0M402.8 102.0h0M400.4 109.8h0M404.7 108.6h0M401.1 119.0h0M404.7 116.8h0M408.2 118.5h0M417.6 118.0h0M388.8 121.8h0M389.6 125.9h0M396.5 125.2h0M396.5 128.3h0M400.3 110.0h0M404.4 116.9h0M412.9 125.2h0M409.8 128.3h0M417.9 128.3h0M416.6 131.6h0M399.1 137.5h0M415.0 137.5h0M401.9 141.6h0M394.2 153.4h0M397.8 148.9h0M400.3 149.8h0M402.4 158.0h0M404.0 148.8h0M406.3 146.3h0M417.5 117.0h0M418.2 118.4h0M412.5 125.2h0M416.8 132.0h0M396.7 128.4h0M409.8 128.4h0M416.8 131.5h0M398.7 137.7h0M400.1 137.0h0M414.9 137.4h0M416.0 139.0h0M401.9 141.6h0M407.6 143.3h0M409.4 143.0h0M411.6 141.8h0M411.3 145.0h0M415.3 143.0h0M415.7 144.5h0M417.9 142.3h0M417.5 143.4h0M405.8 146.3h0M403.6 148.4h0M405.4 149.6h0M397.3 149.1h0M400.3 149.6h0M408.3 149.3h0M413.6 147.7h0M415.3 148.0h0M416.4 148.9h0M417.5 150.0h0M394.0 153.5h0M406.9 153.3h0M409.1 153.0h0M409.8 154.0h0M414.9 153.0h0M416.0 151.8h0M417.1 152.2h0M413.8 155.3h0M415.3 154.8h0M416.4 155.9h0M417.1 157.0h0M415.3 157.7h0M414.2 158.8h0M416.4 158.8h0M402.5 157.9h0M409.8 157.7h0M410.2 160.3h0M417.5 141.1h0M417.2 159.3h0M417.7 157.3h0M417.4 160.1h0M414.5 158.3h0M410.5 160.5h0M417.8 149.2h0M413.8 156.6h0M418.0 157.6h0M412.4 149.4h0M416.9 157.5h0M415.7 160.0h0M417.7 159.8h0M411.7 154.9h0"/>
<path stroke="#f8a33a" stroke-width="1.90" stroke-linecap="round" fill="none" d="M446.1 137.5h0M444.3 144.3h0M445.7 149.0h0M450.9 151.1h0M457.0 155.2h0M450.6 154.5h0M452.9 160.0h0M448.0 147.0h0M453.5 147.5h0M441.3 160.3h0M443.4 147.2h0M442.0 159.7h0M441.3 158.6h0M441.4 160.1h0M441.3 153.2h0M441.0 158.3h0M443.6 160.1h0M441.1 160.2h0M442.5 152.1h0M441.1 151.5h0M442.8 154.9h0M441.2 155.9h0M441.5 157.5h0M443.9 159.8h0M445.1 146.6h0M443.3 156.5h0M443.1 160.4h0M441.5 159.9h0M441.3 158.7h0M442.5 156.5h0M443.1 152.2h0M445.3 159.0h0M444.9 150.0h0M442.1 160.5h0M443.3 160.0h0M445.0 158.9h0M443.9 160.4h0M444.4 158.2h0M442.7 159.6h0M444.5 155.6h0M443.4 160.2h0M443.3 155.7h0M441.5 156.8h0M441.6 155.4h0M441.7 159.8h0M442.9 156.2h0M441.4 160.7h0M446.8 158.7h0M441.3 158.5h0M445.8 159.7h0M441.1 155.8h0M445.3 159.9h0M441.1 155.1h0M441.3 160.3h0M442.1 158.5h0M447.2 160.4h0M444.9 154.0h0M442.3 155.7h0M441.4 159.1h0M441.8 159.0h0M442.7 157.5h0M441.1 160.3h0M444.8 157.7h0M442.8 158.5h0"/>
<defs><radialGradient id="gc" cx="0.5" cy="0.5" r="0.5"><stop offset="0" stop-color="#adadad" stop-opacity="1"/><stop offset="0.68" stop-color="#b3b3b3" stop-opacity="0.88"/><stop offset="0.88" stop-color="#c2c2c2" stop-opacity="0.4"/><stop offset="1" stop-color="#d4d4d4" stop-opacity="0"/></radialGradient><filter id="bl" x="-50%" y="-50%" width="200%" height="200%"><feGaussianBlur stdDeviation="1.2"/></filter></defs>
<ellipse cx="0" cy="0" rx="22.5" ry="9.5" fill="url(#gc)" transform="translate(158.9,353.6) rotate(-34)"/>
<polygon fill="#a9d591" points="157.5,351.9 156.2,352.0 155.1,352.3 154.1,352.7 153.1,353.2 152.1,353.6 151.2,354.1 150.3,354.7 149.4,355.2 148.5,355.8 147.6,356.4 146.8,357.0 146.0,357.7 145.2,358.4 144.5,359.2 143.7,359.9 143.1,360.8 142.4,361.7 141.8,362.6 141.3,363.6 140.5,364.3 142.5,366.7 143.3,366.0 144.4,365.8 145.5,365.4 146.5,364.9 147.4,364.5 148.3,363.9 149.2,363.3 150.1,362.7 150.9,362.1 151.7,361.4 152.4,360.7 153.2,359.9 153.9,359.2 154.6,358.4 155.3,357.6 156.0,356.7 156.6,355.8 157.2,354.9 157.8,353.9 158.1,352.7"/>
<path stroke="#a9d591" stroke-width="1.70" stroke-linecap="round" fill="none" d="M148.6 359.3h0M151.4 356.3h0M141.9 365.2h0M142.4 363.0h0M144.9 360.3h0M148.9 360.5h0M144.2 362.4h0M147.1 356.2h0M149.4 359.7h0M144.3 364.3h0M142.2 366.2h0M151.4 357.1h0M157.4 352.3h0M142.9 357.6h0M146.3 359.0h0M153.3 357.3h0M137.8 368.7h0M157.2 352.9h0M147.2 360.5h0M148.8 360.5h0M155.6 354.1h0M150.2 358.2h0M145.8 360.8h0M155.7 352.8h0M152.8 356.4h0M141.1 364.4h0M150.6 359.8h0M155.8 356.5h0M142.7 365.7h0M155.6 354.7h0M154.1 355.0h0M153.9 354.8h0M154.1 357.9h0M141.6 366.3h0M154.7 354.5h0M156.1 354.1h0M151.4 358.0h0M152.8 356.6h0M148.4 358.9h0M149.6 361.0h0M147.6 356.7h0M138.1 366.8h0M149.8 360.6h0M143.6 363.2h0M144.6 364.4h0M141.1 362.7h0M152.2 355.9h0M153.2 358.6h0M151.0 357.8h0M148.6 360.7h0M144.9 358.8h0M144.9 364.9h0M145.0 363.3h0M143.3 360.9h0M138.2 369.3h0M143.3 363.3h0M142.6 363.5h0M143.8 363.9h0M154.3 356.5h0M143.0 365.9h0M147.8 358.2h0M157.6 352.2h0M151.5 359.0h0M154.7 356.9h0M152.9 356.3h0M149.4 363.0h0M147.4 363.1h0M142.4 366.1h0M141.7 365.3h0M155.0 354.3h0M153.0 360.8h0M149.9 361.6h0M152.0 362.1h0M146.1 363.7h0M150.9 357.6h0M155.8 358.4h0M147.2 360.0h0M147.5 359.7h0M141.5 368.2h0M152.6 354.7h0M152.1 357.3h0M139.8 365.2h0M145.4 358.5h0M148.9 362.6h0M153.2 355.1h0M147.3 360.0h0M157.4 352.8h0M149.1 357.1h0M143.2 365.8h0M144.8 363.9h0M145.8 363.1h0M144.8 362.1h0M156.2 353.0h0M152.2 356.5h0M141.6 364.6h0M142.3 363.2h0M148.3 359.6h0M154.0 356.1h0M152.2 358.5h0M152.3 355.2h0M146.2 362.7h0M144.7 365.5h0M142.3 364.4h0M155.8 354.4h0M142.1 365.5h0M140.1 367.2h0M144.6 362.8h0M151.5 360.4h0M156.6 353.8h0M152.4 354.9h0M152.8 355.0h0M137.6 367.7h0M157.6 352.9h0M154.8 353.7h0M147.4 359.5h0M156.6 355.1h0M140.2 365.4h0M151.0 361.1h0M149.6 356.9h0M150.6 357.5h0M152.6 353.8h0M155.1 355.3h0M147.4 358.8h0M144.4 362.3h0M151.0 358.7h0M140.4 365.4h0M146.0 362.0h0M149.1 359.8h0M146.0 360.5h0M146.9 362.1h0M143.4 362.7h0M146.9 358.5h0M144.9 361.3h0M150.8 357.7h0M145.4 362.5h0M144.1 363.4h0M143.9 357.6h0M156.3 354.4h0M145.5 362.9h0M146.3 360.5h0M152.8 357.4h0M153.2 356.5h0M142.3 364.8h0M150.0 355.0h0M144.5 364.2h0M153.2 357.9h0M146.9 362.1h0M147.5 362.9h0M155.9 353.9h0M148.4 356.2h0M153.2 355.9h0M156.8 353.3h0M156.1 353.6h0M150.8 357.4h0M150.9 356.6h0M145.8 362.8h0M151.1 357.9h0M150.5 359.3h0M154.4 355.4h0M147.0 359.3h0M153.6 358.3h0M150.6 360.8h0M150.1 359.4h0M145.1 360.5h0M141.1 365.0h0M152.5 356.5h0M144.5 363.0h0M157.8 352.4h0M155.7 355.6h0M147.7 359.1h0M139.3 366.5h0M143.2 364.9h0M151.5 356.2h0M150.7 358.7h0M154.7 353.8h0M153.0 358.0h0M148.2 360.5h0M142.1 364.9h0M156.3 354.6h0M150.2 356.3h0M140.9 364.2h0M149.4 361.2h0M138.7 370.3h0M155.3 354.8h0M151.1 357.6h0M147.5 361.5h0M157.5 353.2h0M139.9 367.5h0M143.4 360.0h0M152.4 356.3h0M143.5 363.6h0M148.3 360.0h0M141.2 367.4h0M145.7 367.8h0M154.7 353.9h0M150.7 361.2h0M155.4 354.4h0M150.8 355.7h0M150.3 356.0h0M147.7 357.8h0M151.2 354.7h0M150.8 358.0h0M149.6 362.3h0M147.7 360.5h0M154.3 355.5h0M146.3 360.5h0M145.0 363.3h0M146.0 362.3h0M149.9 358.2h0M156.0 354.7h0M147.1 359.7h0M138.4 367.6h0M149.7 356.4h0M142.0 363.3h0M154.6 356.9h0M155.7 354.4h0M154.0 353.3h0M150.7 357.5h0M148.7 356.6h0M151.6 356.6h0M146.7 362.6h0M156.4 353.0h0M148.2 355.7h0M139.8 368.5h0M141.7 366.9h0M138.8 369.0h0M146.0 362.4h0M148.4 364.4h0M157.4 353.0h0M154.9 355.3h0"/>
<path stroke="#a9d591" stroke-width="1.90" stroke-linecap="round" fill="none" d="M137.2 362.5h0M143.1 376.4h0M146.8 381.6h0M138.7 384.5h0M136.0 358.0h0M139.0 360.0h0M141.0 359.5h0M134.5 365.0h0M137.5 366.0h0M139.0 369.0h0M136.0 371.0h0M141.5 371.0h0M144.0 368.0h0M146.0 370.5h0M148.5 368.0h0M150.0 366.0h0M142.5 373.5h0M139.5 375.0h0M145.0 379.0h0M149.0 374.0h0M151.0 371.5h0M136.0 377.0h0M140.0 379.0h0M142.0 383.5h0M135.0 373.0h0M133.5 368.0h0M147.5 364.5h0M152.5 362.5h0M138.0 355.5h0M141.0 354.5h0M150.5 364.0h0M149.0 366.5h0M146.5 367.5h0M144.0 370.0h0M141.0 372.5h0M139.0 373.0h0M137.5 370.5h0M135.5 369.5h0M134.0 363.0h0M136.0 361.0h0M139.5 358.0h0M153.5 360.5h0M155.0 358.5h0M151.0 368.5h0M147.0 372.5h0M144.5 374.5h0M140.5 377.5h0M137.0 380.0h0M134.0 376.0h0"/>
<path stroke="#1f9c43" stroke-width="1.90" stroke-linecap="round" fill="none" d="M123.6 369.1h0M127.7 369.5h0M130.3 369.5h0M135.8 369.1h0M123.0 372.7h0M127.0 373.5h0M132.1 373.5h0M133.6 374.9h0M137.2 372.0h0M138.0 373.5h0M135.8 376.4h0M124.8 375.7h0M127.0 377.1h0M128.4 377.1h0M118.5 377.6h0M120.8 376.1h0M129.9 379.4h0M125.5 379.4h0M118.9 380.8h0M121.1 381.3h0M114.8 381.3h0M106.1 382.0h0M114.5 385.2h0M121.8 384.5h0M126.7 384.8h0M128.9 384.0h0M132.1 384.0h0M135.8 384.8h0M130.6 386.7h0M106.9 387.6h0M115.7 389.6h0M122.6 390.8h0M105.0 393.3h0M107.1 394.8h0M119.6 392.6h0M118.2 394.8h0M129.2 394.5h0M128.1 397.0h0M127.7 398.1h0M94.4 399.0h0M112.0 402.1h0M130.6 406.1h0M93.6 408.3h0M134.5 371.0h0M136.5 370.5h0M131.0 371.5h0M129.0 375.5h0M133.0 378.0h0"/>
<path d="M164.6 348.2 L166 346.9 L167.3 345.6 L167.9 344.6 M168 345.3 L169.2 346.2 L170.5 345.9" stroke="#f8a33a" stroke-width="1.7" fill="none" stroke-linecap="round"/>
<path stroke="#bdbdbd" stroke-width="1.00" stroke-linecap="round" fill="none" stroke-opacity="0.8" d="M429.0 433.7h0M447.1 438.3h0M431.4 433.4h0M452.5 436.1h0M442.1 436.8h0M426.3 424.7h0M430.5 424.8h0M442.4 430.6h0M431.3 432.0h0M440.0 436.2h0M443.2 439.5h0M430.0 436.5h0M426.6 427.3h0M454.8 426.0h0M438.8 418.2h0M424.9 432.9h0M424.9 416.4h0M439.4 433.1h0M439.0 436.0h0M439.0 436.0h0M426.4 423.3h0M420.1 432.0h0M420.8 431.8h0M418.0 438.6h0M431.8 439.5h0M428.6 409.5h0M424.5 410.1h0M429.1 428.1h0M426.0 417.1h0M437.2 437.9h0M437.2 434.4h0M421.8 425.6h0M442.0 435.9h0M445.1 417.1h0M430.5 432.6h0M432.3 437.2h0M431.5 438.0h0M428.7 429.5h0M450.0 419.4h0M429.4 438.5h0M440.6 438.2h0M450.2 423.1h0M438.6 436.7h0M430.0 419.3h0M425.1 413.8h0M429.9 439.4h0M421.4 437.4h0M443.5 438.6h0M436.6 437.8h0M428.9 439.5h0M426.2 430.2h0M426.5 421.4h0M427.5 426.2h0M425.2 435.0h0M428.0 432.8h0M440.5 436.4h0M450.7 428.8h0M437.5 437.4h0M447.4 436.1h0M425.4 400.0h0M445.5 438.5h0M445.6 438.8h0M443.3 435.5h0M421.7 429.0h0M452.5 424.0h0M448.4 431.5h0M440.7 432.6h0M438.9 411.6h0M427.7 410.7h0M427.5 437.7h0M427.1 425.5h0M430.4 431.9h0M448.0 421.0h0M436.6 436.8h0M442.3 438.0h0M427.1 437.9h0M442.0 426.2h0M440.5 410.3h0M437.9 430.6h0M430.7 438.6h0M431.2 427.2h0M429.8 423.6h0M428.4 432.9h0M430.9 421.5h0M437.7 437.5h0M442.3 425.3h0M426.9 429.2h0M417.4 429.9h0M440.3 437.4h0M425.3 427.0h0M423.7 428.0h0M441.2 409.5h0M452.5 438.9h0M446.1 432.4h0M437.1 432.3h0M440.1 428.8h0M429.6 428.8h0M455.1 434.2h0M449.4 426.3h0M430.6 423.0h0M429.4 439.5h0M447.3 408.7h0M422.8 430.2h0M441.7 418.5h0M437.4 434.4h0M447.1 434.6h0M444.0 436.2h0M440.5 416.5h0M432.0 438.4h0M437.8 438.7h0M437.8 424.2h0M419.1 430.9h0M428.0 439.4h0M438.8 437.5h0M447.3 435.0h0M431.1 437.5h0M429.4 438.6h0M448.9 426.0h0M441.6 414.2h0M429.7 436.4h0M430.5 436.2h0M430.8 439.4h0M427.0 416.4h0M443.2 434.1h0M425.5 438.5h0M430.0 421.2h0M426.2 409.1h0M437.6 424.9h0M442.2 432.7h0M438.4 436.5h0M447.5 409.7h0M431.4 434.8h0M420.3 439.2h0M447.9 423.8h0M429.2 435.3h0M440.7 429.5h0M438.0 433.6h0M429.7 423.2h0M450.0 433.5h0M428.7 426.1h0M423.1 420.0h0M425.8 436.5h0M452.4 437.1h0M418.9 436.5h0M442.2 437.8h0M421.5 437.9h0M425.8 411.8h0M426.9 427.7h0M425.9 437.3h0M429.5 420.5h0M430.6 419.1h0M422.4 433.7h0M438.1 434.7h0M441.4 428.1h0M428.2 417.1h0M446.5 422.6h0M430.5 435.4h0M426.9 430.7h0M443.5 428.4h0M443.7 432.6h0M425.1 436.9h0M428.2 430.5h0M432.4 437.8h0M448.5 435.3h0M428.5 432.2h0M441.2 435.5h0M430.5 419.1h0M446.3 439.3h0M430.3 433.6h0M444.1 436.9h0M424.8 432.8h0M428.2 438.6h0M443.6 432.5h0M427.1 426.3h0M437.4 437.7h0M444.1 420.3h0M437.8 430.5h0M427.7 426.4h0M425.7 439.0h0M423.5 419.2h0M429.2 439.3h0M440.1 439.2h0M421.1 436.1h0M425.1 431.2h0M443.4 420.7h0M441.8 434.7h0M445.4 439.2h0M441.2 433.8h0M428.5 419.9h0M437.3 429.3h0M430.1 438.8h0M438.6 434.1h0M417.1 433.6h0M436.6 439.1h0M418.9 438.3h0M441.3 437.6h0M441.0 417.9h0M425.9 411.7h0M454.9 435.7h0M440.4 420.7h0M446.8 433.3h0M436.5 436.8h0M429.9 437.7h0M429.8 435.2h0M442.1 438.3h0M423.9 439.2h0M417.3 431.8h0M429.9 429.5h0M421.4 422.4h0M438.2 436.1h0M444.9 428.6h0M431.0 426.5h0M425.7 434.4h0M422.6 436.3h0M428.3 436.8h0M424.0 425.0h0M440.8 426.0h0M436.9 437.8h0M426.0 421.5h0M431.8 432.7h0M437.8 427.6h0M438.9 438.4h0M426.9 435.0h0M432.2 438.9h0M440.5 427.1h0M449.0 426.7h0M455.4 437.4h0M445.4 429.5h0M440.7 437.6h0M440.7 430.0h0M425.2 428.4h0M430.9 429.7h0M451.4 436.9h0M445.0 435.3h0M440.9 435.7h0M440.5 438.2h0M427.8 424.5h0M425.3 438.4h0M415.5 429.0h0M428.9 437.6h0M430.0 438.1h0M426.1 415.3h0M428.7 428.5h0M440.9 431.8h0M450.5 426.1h0M426.7 424.9h0M423.7 428.1h0M444.7 432.2h0M431.1 428.7h0M441.8 439.1h0M443.2 432.2h0M438.5 434.6h0M431.3 427.1h0M418.2 438.8h0M445.4 415.3h0M425.6 435.3h0M428.6 439.3h0M449.8 410.8h0M420.0 435.4h0M427.6 435.4h0M445.2 437.3h0M442.4 439.1h0M426.5 426.8h0M443.0 428.3h0M437.9 437.9h0M417.5 427.4h0M425.5 429.5h0M418.8 411.1h0M431.0 429.5h0M448.8 439.4h0M428.5 433.9h0M438.4 424.0h0M439.1 433.4h0M440.9 437.8h0M436.4 437.9h0M438.6 437.1h0M428.1 439.5h0M441.8 434.8h0M446.8 429.5h0M432.5 438.5h0M439.1 429.9h0M442.4 439.2h0M443.2 431.0h0M429.3 406.7h0M428.7 435.4h0M443.6 436.0h0M441.7 429.0h0M438.3 426.8h0M443.6 410.9h0M426.1 436.6h0M427.9 439.4h0M421.6 424.6h0M441.0 439.2h0M438.1 437.6h0M426.1 431.0h0M450.8 438.0h0M442.5 428.8h0M424.4 426.8h0M446.5 434.5h0M423.0 438.4h0M432.1 439.0h0M426.6 414.6h0M448.2 437.9h0M449.5 428.5h0M444.6 437.7h0M437.1 438.8h0M424.7 425.9h0M426.7 428.9h0M440.8 428.9h0M430.8 427.8h0M421.0 432.3h0M437.8 437.1h0M425.7 435.8h0M430.1 416.8h0M449.1 439.1h0M427.5 409.1h0M428.0 421.8h0M430.8 437.3h0M422.0 439.4h0M427.2 425.1h0M438.0 436.1h0M441.3 434.9h0M443.4 430.2h0M444.2 432.3h0M427.5 431.9h0M447.2 428.3h0M429.4 428.1h0M441.3 434.8h0M430.8 433.7h0M448.8 438.0h0M443.3 432.9h0M428.2 435.7h0M441.8 438.8h0M441.7 405.3h0M442.8 423.8h0M431.0 434.7h0M438.8 434.2h0M437.9 428.5h0M437.7 436.7h0M429.9 410.4h0M441.8 423.6h0M422.6 427.6h0M442.8 408.0h0M431.3 427.3h0M423.9 435.7h0M439.7 428.7h0M439.6 410.3h0M428.9 432.0h0M425.4 428.4h0M443.7 427.1h0M437.4 437.4h0M429.3 403.8h0M423.2 432.4h0M430.9 433.0h0M426.9 421.7h0M423.8 400.5h0M429.6 433.9h0M447.9 429.7h0M443.4 419.0h0M419.9 433.5h0M431.0 426.5h0M429.2 438.3h0M430.1 423.0h0M430.6 430.5h0M436.6 437.6h0M423.7 433.0h0M424.0 435.1h0M431.9 434.5h0M431.4 434.7h0M424.1 412.2h0M431.8 436.6h0M421.7 435.1h0M440.8 437.3h0M440.2 425.9h0M429.3 427.0h0M431.5 434.0h0M431.5 429.6h0M438.6 431.5h0M423.0 438.2h0M419.7 431.9h0M438.6 428.6h0M441.0 428.6h0M437.1 429.7h0M447.8 438.6h0M441.9 409.1h0M421.6 430.2h0M428.1 423.5h0M429.4 436.6h0M445.5 432.8h0M421.8 422.9h0M419.5 438.3h0M442.8 428.0h0M422.2 437.8h0M429.1 437.8h0M444.5 430.3h0M424.1 414.4h0M446.1 437.2h0M450.2 428.9h0M443.5 435.5h0M455.1 437.1h0M425.9 419.5h0M437.3 431.6h0M444.2 430.4h0M441.9 432.5h0M438.0 435.9h0M444.7 437.5h0M427.5 437.3h0M440.6 425.4h0M426.0 420.5h0M423.0 426.6h0M422.3 416.7h0M447.4 432.2h0M428.8 433.6h0M439.6 411.7h0M450.6 421.8h0M439.8 435.2h0M425.3 416.2h0M438.0 422.6h0M450.3 405.4h0M430.4 432.4h0M426.2 421.5h0M420.9 437.0h0M444.9 438.5h0M458.2 429.0h0M448.4 416.4h0M428.3 431.9h0M446.1 439.5h0M431.0 424.4h0M431.2 437.1h0M432.1 434.1h0M425.9 434.5h0M421.6 422.8h0M419.5 416.6h0M443.8 434.6h0M427.8 439.3h0M439.6 422.9h0M462.7 426.9h0M429.7 407.5h0M445.4 439.4h0M439.7 434.1h0M442.4 431.0h0M439.9 435.7h0M439.5 418.5h0M451.6 432.1h0M419.3 423.7h0M424.2 435.3h0M419.5 421.1h0M431.8 433.4h0M440.3 435.4h0M446.1 426.5h0M419.6 435.0h0M424.4 427.1h0M428.8 406.4h0M446.5 407.9h0M439.0 433.9h0M432.4 438.9h0M427.0 417.4h0M420.6 423.8h0M439.5 434.3h0M429.7 408.1h0M446.0 435.0h0M424.4 402.7h0M439.1 424.9h0M424.6 433.7h0M437.5 437.1h0M438.2 417.7h0M420.7 425.5h0M425.2 434.8h0M428.9 429.8h0M452.4 438.8h0M437.9 434.5h0M426.4 429.6h0M431.4 426.8h0M446.4 427.7h0M440.5 417.1h0M440.1 423.7h0M427.0 438.6h0M454.7 411.5h0M439.3 417.8h0M431.4 426.9h0M439.5 433.3h0M419.5 438.5h0M436.5 437.2h0M439.6 436.2h0M428.7 439.3h0M425.6 435.7h0M428.5 437.4h0M422.7 437.3h0M447.6 434.1h0M437.4 438.2h0M426.9 435.1h0M429.8 408.7h0M420.3 437.9h0M429.4 429.0h0M423.2 432.8h0M446.3 438.2h0M443.5 430.5h0M424.3 434.3h0M448.1 427.3h0M440.1 431.8h0M441.0 436.9h0M450.7 411.4h0M437.3 437.7h0M445.0 435.2h0M451.1 418.2h0M426.2 416.4h0M428.1 427.3h0M431.1 423.8h0M428.1 421.7h0M446.9 403.5h0M418.5 429.3h0M443.7 435.7h0M420.0 426.5h0M444.8 410.1h0M421.6 418.0h0M439.3 429.5h0M445.1 435.4h0M440.4 431.9h0M439.6 432.4h0M431.7 431.2h0M426.2 438.1h0M442.0 424.7h0M430.7 427.4h0M430.3 436.4h0M442.0 434.5h0M424.3 424.5h0M423.6 428.5h0M430.2 426.2h0M424.2 434.8h0M445.4 428.7h0M428.2 436.2h0M431.9 434.3h0M439.9 438.4h0M418.7 435.3h0M447.1 424.9h0M423.8 438.0h0M427.6 430.1h0M420.6 437.1h0M445.9 409.3h0M436.9 433.7h0M446.8 401.1h0M436.8 436.8h0M448.3 438.0h0M439.0 432.6h0M430.9 430.4h0M424.1 438.4h0M419.6 421.4h0M440.6 435.3h0M447.1 435.5h0M442.1 413.2h0M420.8 423.7h0M454.1 412.7h0M427.4 439.0h0M418.8 432.7h0M436.9 437.4h0M449.1 433.0h0M425.7 426.4h0M441.3 428.8h0M425.6 430.8h0M451.1 421.0h0M428.1 430.6h0M452.9 436.7h0M422.1 423.2h0M428.8 435.8h0M431.4 433.2h0M429.5 439.4h0M438.7 436.3h0M430.1 426.4h0M425.6 437.8h0M432.0 437.7h0M425.4 436.4h0M439.9 402.4h0M421.8 415.9h0M439.8 426.5h0M438.0 431.2h0M431.7 432.7h0M437.6 433.2h0M427.9 427.2h0M443.9 432.9h0M452.4 429.1h0M429.7 439.6h0M420.8 426.4h0M430.8 437.4h0M447.5 435.6h0M421.6 417.9h0M439.2 433.9h0M449.0 435.1h0M431.6 438.7h0M450.8 431.9h0M425.2 438.5h0M441.8 427.4h0M441.1 430.3h0M423.4 438.3h0M437.5 438.6h0M446.7 437.1h0M437.1 438.9h0M444.9 428.2h0M439.2 439.5h0M441.0 436.3h0M418.1 438.0h0M437.6 430.9h0M438.8 438.2h0M428.7 430.2h0M441.7 430.1h0M430.0 436.2h0M425.6 437.6h0M430.3 429.7h0M430.5 437.1h0M449.8 437.0h0M438.2 431.4h0M437.3 436.2h0M437.3 432.7h0M426.9 424.4h0M443.4 437.2h0M425.3 432.8h0M443.1 439.5h0M444.1 437.7h0M444.6 432.6h0M446.6 434.7h0M431.3 430.5h0M420.0 435.6h0M447.4 434.7h0M444.9 438.5h0M437.0 436.3h0M431.9 432.1h0M449.8 427.4h0M429.3 436.8h0M444.0 411.6h0M421.5 421.3h0M441.7 429.5h0M439.9 432.6h0M441.7 414.1h0M440.3 411.9h0M446.3 425.0h0M428.6 430.6h0M431.9 435.5h0M454.4 427.9h0M448.8 428.5h0M440.1 430.7h0M445.7 431.5h0M454.7 419.8h0M430.4 437.8h0M442.8 439.2h0M431.2 439.5h0M422.1 430.4h0M439.2 435.4h0M422.6 431.3h0M427.8 433.0h0M439.9 436.5h0M423.7 433.2h0M430.8 431.2h0M440.6 428.4h0M427.7 421.2h0M436.9 436.7h0M423.3 424.4h0M438.0 431.0h0M437.7 433.9h0M426.3 427.2h0M420.0 425.6h0M438.9 439.5h0M443.7 421.0h0M438.0 424.8h0M438.5 416.0h0M442.6 427.2h0M447.2 427.6h0M441.2 428.5h0M412.4 433.5h0M439.5 427.0h0M438.6 422.5h0M421.8 425.4h0M430.9 436.9h0M443.2 432.8h0M428.8 429.4h0M437.4 433.4h0M443.9 432.6h0M453.7 431.9h0M436.7 436.8h0M438.6 423.3h0M451.6 438.0h0M428.6 426.7h0M443.5 418.4h0M427.5 421.3h0M426.2 432.3h0M437.3 436.4h0M427.2 425.6h0M425.0 439.3h0M422.0 436.8h0M448.9 425.4h0M417.5 417.3h0M440.5 430.0h0M442.8 409.5h0M439.1 413.7h0M437.0 439.6h0M440.6 405.2h0M422.8 428.3h0M418.8 436.9h0M423.0 415.2h0M439.4 437.1h0M425.2 434.5h0M439.8 436.6h0M440.7 426.0h0M414.1 424.7h0M443.6 427.7h0M422.7 433.2h0M446.7 401.9h0M430.3 436.1h0M429.9 439.1h0M422.2 419.7h0M440.4 436.7h0M426.3 436.5h0M430.2 430.5h0M440.1 406.2h0M430.4 432.7h0M448.3 430.5h0M427.8 423.4h0M436.5 439.1h0M439.4 439.0h0M425.1 435.8h0M440.7 411.9h0M420.1 436.7h0M438.9 431.4h0M423.3 437.8h0M440.6 436.0h0M423.9 416.4h0M439.8 436.1h0M427.6 406.9h0M444.1 422.3h0M439.9 436.7h0M450.2 438.5h0M430.9 423.0h0M441.0 424.9h0M440.5 412.2h0M446.5 409.3h0M454.4 433.3h0M428.4 413.3h0M429.1 434.6h0M440.2 418.0h0M429.8 419.9h0M447.4 439.5h0M445.9 429.4h0M430.5 423.9h0M438.7 428.2h0M441.6 408.9h0M454.4 435.7h0M437.4 431.4h0M426.2 410.6h0M451.8 409.1h0M426.0 432.7h0M439.5 435.9h0M432.0 436.1h0M444.0 439.2h0M428.3 401.7h0M421.8 435.0h0M441.0 422.7h0M431.7 436.5h0M449.5 438.6h0M442.6 434.5h0M424.8 407.4h0M425.3 438.5h0M440.2 418.5h0M449.2 439.1h0M444.5 430.5h0M439.1 438.3h0M440.3 439.2h0M437.9 432.4h0M431.2 435.1h0M429.5 438.2h0M432.0 438.4h0M426.8 430.6h0M439.5 416.2h0M425.7 436.2h0M439.3 421.2h0M429.6 435.8h0M426.7 425.0h0M427.8 417.5h0M429.7 426.6h0M424.9 434.3h0M429.0 433.1h0M428.4 415.6h0M440.9 437.7h0M437.9 421.8h0M443.2 420.6h0M442.6 424.5h0M445.6 431.3h0M438.1 423.0h0M438.0 435.6h0M443.4 439.1h0M437.6 438.5h0M425.4 439.1h0M439.1 431.0h0M431.0 429.6h0M439.4 432.1h0M431.0 439.2h0M449.3 437.8h0M441.3 438.7h0M421.6 436.6h0M452.1 422.2h0M438.5 423.1h0M447.5 433.0h0M436.3 439.1h0M429.2 420.3h0M443.6 427.1h0M439.7 428.7h0M427.3 417.5h0M438.7 439.4h0M441.8 431.1h0M430.2 422.6h0M440.0 413.5h0M437.9 429.1h0M448.3 432.8h0M418.7 437.1h0M439.5 434.6h0M437.2 438.9h0M423.7 417.2h0M438.3 438.9h0M443.7 439.3h0M426.9 423.2h0M427.3 434.0h0M430.6 418.2h0M438.4 432.2h0M422.7 437.3h0M444.7 438.1h0M430.3 434.0h0M418.7 436.9h0M429.6 431.2h0M427.5 425.7h0M444.1 428.7h0M441.5 420.3h0M427.4 439.0h0M429.9 413.9h0M438.0 439.0h0M437.1 435.5h0M450.4 437.3h0M437.4 435.7h0M449.6 426.1h0M430.1 431.2h0M437.7 423.8h0M437.4 438.7h0M437.7 436.7h0M427.9 416.1h0M428.8 430.4h0M442.2 431.3h0M455.4 423.2h0M437.8 435.9h0M448.1 422.9h0M431.2 424.4h0M429.0 420.8h0M426.2 416.6h0M442.3 433.3h0M429.4 434.4h0M445.1 416.4h0M419.2 437.7h0M428.8 437.2h0M425.2 433.2h0M439.0 435.6h0M424.7 436.9h0M430.0 436.7h0M444.8 426.2h0M422.0 429.2h0M431.5 437.9h0M444.1 436.2h0M452.3 435.3h0M440.3 433.8h0M429.9 418.7h0M429.9 435.5h0M440.0 427.6h0M430.4 425.3h0M453.6 428.0h0M424.8 429.7h0M446.5 400.1h0M420.9 426.3h0M436.5 437.6h0M441.3 424.3h0M426.8 437.5h0M443.7 422.1h0M448.3 436.5h0M448.3 419.8h0M444.8 428.1h0M431.3 438.7h0M423.3 437.3h0M424.8 426.2h0M429.7 439.6h0M451.5 425.1h0M448.7 425.6h0M427.7 427.5h0M444.9 431.0h0M429.5 436.4h0M443.3 439.0h0M440.2 424.0h0M437.0 437.4h0M429.6 439.0h0M429.3 404.2h0M417.2 427.3h0M428.6 434.3h0M440.0 438.6h0M438.2 429.6h0M430.5 433.5h0M437.6 436.7h0M442.2 432.7h0M448.9 438.0h0M422.7 405.4h0M438.6 439.2h0M451.5 433.4h0M429.5 433.0h0M432.1 435.7h0M444.7 438.5h0M426.7 431.8h0M437.0 433.4h0M428.4 434.4h0M429.2 426.1h0M431.9 434.4h0M424.0 432.3h0M426.1 431.4h0M441.9 403.1h0M437.3 437.1h0M439.3 439.3h0M456.8 412.1h0M439.9 438.4h0M451.4 410.2h0M444.5 429.2h0M431.4 439.1h0M447.8 426.0h0M445.2 433.7h0M419.2 424.0h0M430.5 427.1h0M436.2 439.4h0M426.3 420.2h0M438.7 434.1h0M443.0 436.3h0M432.3 438.2h0M427.3 429.9h0M426.6 421.1h0M427.0 438.9h0M453.9 438.0h0M441.0 437.3h0M430.6 439.2h0M422.4 427.4h0M437.2 431.7h0M431.2 434.6h0M447.1 433.3h0M430.4 435.8h0M424.9 411.3h0M418.8 436.1h0M442.0 426.9h0M436.4 437.4h0M452.1 419.9h0M442.5 417.2h0M428.9 409.6h0M416.5 430.8h0M427.3 435.1h0M422.0 439.5h0M444.8 436.0h0M440.5 423.9h0M440.0 432.5h0M421.8 433.6h0M423.0 437.0h0M429.6 429.9h0M431.7 435.4h0M429.2 438.4h0M436.5 437.6h0M426.7 428.3h0M448.1 427.0h0M427.9 422.0h0M422.4 420.6h0M426.9 422.8h0M441.4 431.6h0M452.5 434.6h0M426.9 434.7h0M420.1 423.3h0M427.4 435.4h0M429.6 427.8h0M437.9 435.6h0M439.4 435.1h0M436.9 437.9h0M448.2 439.1h0M437.1 433.4h0M451.1 415.0h0M431.0 437.9h0M430.0 431.2h0M430.9 437.3h0M438.3 436.3h0M439.1 427.0h0M423.8 438.6h0M428.2 433.5h0M451.0 430.5h0M424.3 421.4h0M421.3 424.9h0M444.0 426.4h0M427.4 426.3h0M440.4 433.6h0M446.4 429.9h0M431.4 439.5h0M443.7 431.6h0M429.6 416.0h0M449.2 414.5h0M442.1 428.7h0M425.7 429.9h0M437.1 431.6h0M451.3 426.6h0M427.1 426.9h0M431.2 429.2h0M454.0 431.1h0M424.6 428.1h0M425.2 427.9h0M423.7 429.0h0M425.5 427.8h0M420.0 431.6h0M437.0 437.0h0M422.4 411.5h0M421.1 403.0h0M438.4 436.3h0M438.2 428.1h0M438.2 439.5h0M447.0 427.2h0M440.0 431.9h0M437.2 439.4h0M431.8 435.8h0M438.7 417.2h0M442.7 429.3h0M420.2 419.2h0M424.8 423.3h0M444.0 426.3h0M446.0 411.1h0M442.3 433.7h0M444.7 416.9h0M429.7 428.2h0M444.5 431.9h0M428.3 405.0h0M429.4 435.2h0M438.4 437.4h0M420.6 434.7h0M442.6 423.4h0M446.5 439.5h0M429.9 409.4h0M445.0 404.4h0M439.1 419.4h0M432.3 439.1h0M436.6 436.1h0M430.5 434.4h0M440.4 436.1h0M445.7 406.6h0M453.2 435.0h0M429.6 412.9h0M429.6 433.1h0M456.4 432.6h0M428.9 429.0h0M441.8 439.4h0M438.8 430.5h0M430.2 435.2h0M440.0 418.5h0M425.2 439.4h0M429.0 413.0h0M436.6 436.5h0M441.5 406.8h0M441.4 430.8h0M422.2 421.8h0M432.0 437.2h0M426.8 429.3h0M424.9 435.8h0M421.2 421.7h0M422.2 430.5h0M446.4 438.0h0M441.2 428.7h0M427.5 437.1h0M441.5 433.3h0M431.5 436.3h0M430.1 433.9h0M423.3 433.4h0M426.9 428.5h0M430.7 422.1h0M426.5 431.0h0M443.7 438.7h0M444.0 424.9h0M437.5 432.5h0M420.8 427.6h0M436.8 433.9h0M430.0 424.5h0M431.3 438.7h0M448.9 430.4h0M422.7 424.8h0M451.5 435.4h0M448.8 431.4h0M442.4 406.7h0M442.7 427.9h0M428.5 428.0h0M444.3 438.7h0M440.3 428.0h0M431.9 438.3h0M426.8 424.6h0M437.2 437.3h0M442.1 437.2h0M431.6 437.5h0M447.3 423.0h0M428.3 433.1h0M444.4 437.4h0M418.8 423.6h0M441.0 428.1h0M422.2 427.5h0M447.9 424.4h0M424.7 432.9h0M441.4 419.9h0M429.2 435.2h0M428.9 428.9h0M429.7 436.2h0M453.1 429.5h0M420.8 415.1h0M422.1 426.2h0M448.2 409.6h0M432.4 438.5h0M454.9 439.5h0M421.5 438.7h0M438.3 427.2h0M431.5 436.7h0M430.1 439.3h0M417.9 434.0h0M421.8 438.8h0M438.3 439.1h0M421.8 431.4h0M448.7 434.8h0M430.8 437.8h0M451.0 439.2h0M428.6 434.2h0M438.8 425.0h0M430.1 433.3h0M436.8 434.9h0M439.1 436.1h0M448.7 432.3h0M428.7 402.9h0M420.8 438.4h0M419.6 438.2h0M448.1 434.6h0M441.1 437.1h0M445.8 422.5h0M438.4 417.2h0M445.7 434.0h0M426.9 423.5h0M441.6 425.7h0M441.7 431.6h0M436.6 439.5h0M427.4 431.3h0M437.3 438.9h0M437.7 425.5h0M445.0 437.3h0M442.7 414.2h0M456.2 428.8h0M442.3 431.6h0M439.5 431.7h0M432.6 439.3h0M427.9 438.6h0M442.7 437.0h0M450.7 403.8h0M438.0 429.1h0M448.0 437.3h0M444.7 418.2h0M427.2 410.9h0M424.5 438.4h0M425.1 439.4h0M442.0 426.0h0M452.7 432.8h0M427.7 438.6h0M436.6 439.5h0M439.0 436.9h0M453.1 432.2h0M446.4 430.8h0M425.9 438.5h0M425.5 424.1h0M429.7 432.6h0M431.3 430.1h0M428.0 434.8h0M426.1 439.3h0M428.3 426.5h0M428.9 426.1h0M445.0 416.0h0M427.6 418.2h0M446.5 437.2h0M432.1 438.9h0M429.3 429.1h0M439.7 427.6h0M424.9 423.8h0M432.1 438.9h0M422.0 425.0h0M426.6 436.9h0M430.6 434.1h0M448.0 423.9h0M420.9 422.2h0M445.2 423.0h0M420.8 409.5h0M449.9 420.7h0M426.0 439.0h0M427.8 438.3h0M430.6 419.8h0M442.8 419.7h0M448.6 425.5h0M439.3 434.7h0M421.9 401.4h0M442.0 437.9h0M423.0 427.6h0M445.2 438.3h0M445.0 416.6h0M439.8 436.7h0M438.5 422.2h0M424.5 429.5h0M447.8 427.3h0M447.0 428.6h0M443.0 425.9h0M448.2 439.1h0M445.2 431.5h0M442.6 421.3h0M428.7 438.3h0M427.4 434.8h0M431.8 434.5h0M421.4 427.8h0M426.4 426.2h0M437.2 438.9h0M430.4 426.2h0M447.5 433.3h0M421.7 431.0h0M445.8 434.9h0M424.9 439.4h0M439.0 436.6h0M438.6 427.5h0M456.4 439.0h0M448.7 436.1h0M440.8 431.7h0M418.2 423.5h0M443.1 436.8h0M445.4 435.2h0M445.7 423.6h0M437.6 428.2h0M429.8 438.9h0M422.4 434.0h0M431.8 437.6h0M431.4 438.6h0M428.4 411.8h0M443.4 439.0h0M436.6 438.4h0M437.2 436.9h0M443.8 405.6h0M437.6 430.4h0M423.3 403.3h0M425.6 407.4h0M430.4 434.4h0M432.2 435.6h0M422.0 426.0h0M439.1 437.1h0M440.3 433.6h0M430.3 425.4h0M425.5 422.4h0M423.3 435.4h0M420.1 436.1h0M425.8 439.1h0M436.7 438.2h0M429.2 426.6h0M426.2 423.6h0M446.7 422.1h0M441.0 416.1h0M428.0 437.3h0M425.0 416.9h0M447.0 427.2h0M430.6 431.5h0M427.2 424.6h0M421.9 422.6h0M421.8 435.2h0M439.9 437.8h0M447.9 426.1h0M446.7 438.4h0M424.4 438.4h0M442.3 431.9h0M437.8 438.5h0M430.2 427.0h0M432.2 437.2h0M432.0 436.4h0M440.2 428.5h0M439.2 436.2h0M446.9 428.8h0M425.9 403.6h0M430.1 436.3h0M432.0 435.6h0M454.4 405.7h0M431.0 423.3h0M446.0 439.0h0M438.6 434.5h0M425.4 439.4h0M438.7 435.3h0M431.6 439.0h0M451.6 438.1h0M421.4 410.8h0M426.2 422.6h0M447.7 429.6h0M444.2 439.0h0M428.5 429.9h0M440.4 438.3h0M431.0 435.9h0M424.4 436.7h0M422.5 436.9h0M446.0 433.2h0M426.6 424.5h0M429.2 430.8h0M441.6 423.4h0M449.7 435.4h0M428.7 439.3h0M443.0 434.8h0M449.0 422.6h0M437.9 430.3h0M451.8 427.3h0M430.8 431.6h0M449.6 432.1h0M431.1 439.0h0M427.5 426.7h0M423.1 425.4h0M441.5 428.1h0M444.4 427.1h0M425.7 423.7h0M446.9 408.2h0M431.9 439.0h0M426.5 434.3h0M426.3 431.3h0M450.4 404.6h0M444.2 425.4h0M429.3 426.7h0M446.3 437.8h0M422.0 414.7h0M425.0 427.4h0M423.3 439.1h0M444.8 432.7h0M437.8 438.6h0M442.6 429.2h0M442.0 436.3h0M430.8 436.9h0M445.1 439.1h0M418.7 438.5h0M430.4 422.9h0M425.5 436.9h0M416.2 438.3h0M458.0 418.2h0M419.6 435.9h0M420.0 436.9h0M437.1 435.5h0M445.8 430.8h0M450.1 424.2h0M425.3 435.1h0M428.5 436.6h0M438.4 436.5h0M424.9 426.4h0M421.3 424.5h0M431.3 432.8h0M420.2 439.5h0M449.9 434.6h0M441.0 437.7h0M431.5 438.6h0M439.7 432.0h0M432.1 436.6h0M429.1 431.7h0M425.4 439.4h0M438.0 430.1h0M451.8 434.2h0M421.6 427.3h0M437.5 434.6h0M444.3 439.2h0M442.3 438.2h0M438.3 422.8h0M447.0 423.8h0M439.6 436.1h0M441.8 430.4h0M426.9 434.8h0M427.8 436.7h0M441.5 438.8h0M430.9 438.8h0M443.3 419.5h0M428.8 428.2h0M441.5 413.2h0M428.3 423.4h0M430.1 438.8h0M431.4 439.3h0M427.1 403.8h0M430.5 433.8h0M441.1 422.1h0M430.5 436.3h0M428.1 439.4h0M441.5 412.8h0M444.8 408.4h0M430.1 439.6h0M429.9 420.8h0M429.1 434.1h0M437.2 435.5h0M450.0 436.2h0M442.4 430.3h0M441.9 407.6h0M431.6 431.8h0M456.6 412.4h0M442.7 439.3h0M452.9 416.0h0M424.5 420.6h0M439.0 430.2h0M447.7 437.1h0M432.2 435.0h0M439.4 435.1h0M424.1 439.2h0M429.5 432.5h0M421.5 426.7h0M437.3 438.1h0M427.7 429.5h0M421.7 423.2h0M430.1 412.1h0M440.2 429.0h0M429.4 423.6h0M425.7 436.7h0M440.5 437.7h0M437.5 433.4h0M430.1 437.2h0M420.6 404.2h0M430.6 435.8h0M437.3 428.8h0M427.7 433.6h0M444.8 431.8h0M419.5 425.3h0M419.4 421.0h0M438.4 438.6h0M426.7 438.7h0M429.2 432.8h0M421.9 418.8h0M430.3 426.2h0M443.6 437.4h0M430.6 433.7h0M442.4 429.4h0M423.1 406.5h0M451.2 433.9h0M437.1 437.9h0M428.0 438.6h0M420.0 420.5h0M422.9 438.0h0M432.1 439.1h0M450.2 426.1h0M431.4 432.1h0M428.7 427.2h0M429.1 430.3h0M439.7 420.1h0M443.5 437.9h0M445.0 427.6h0M431.7 436.1h0M438.3 435.8h0M427.4 433.8h0M420.1 434.2h0M437.6 434.4h0M426.2 427.1h0M421.4 414.5h0M425.7 438.8h0M440.3 428.5h0M437.8 437.6h0M443.0 420.1h0M449.7 426.8h0M442.4 421.9h0M412.6 431.7h0M447.5 428.1h0M442.1 438.7h0M444.4 422.8h0M429.7 427.0h0M440.1 432.2h0M419.4 433.8h0M439.5 421.9h0M439.7 437.8h0M439.6 438.8h0M425.4 421.5h0M452.5 433.4h0M447.5 437.6h0M430.7 438.4h0M425.2 424.0h0M421.7 434.1h0M430.0 416.8h0M443.2 422.6h0M430.1 422.6h0M420.3 435.1h0M430.9 426.5h0M428.2 400.5h0M429.3 434.5h0M428.9 438.2h0M436.5 437.2h0M420.0 437.0h0M421.4 438.9h0M439.7 427.8h0M448.7 438.0h0M430.4 425.5h0M430.4 436.3h0M450.1 438.0h0M440.9 426.4h0M438.2 432.7h0M443.2 410.7h0M446.1 428.1h0M438.3 437.8h0M418.3 437.0h0M451.4 415.3h0M424.7 438.9h0M412.0 403.0h0M444.8 433.3h0M423.7 420.3h0M428.5 436.4h0M426.3 438.3h0M438.0 438.2h0M427.1 424.1h0M438.8 434.0h0M430.7 423.7h0M427.4 431.6h0M427.4 424.3h0M451.2 437.0h0M428.8 425.6h0M442.1 416.4h0M431.3 432.8h0M426.2 431.1h0M429.2 437.6h0M424.5 422.9h0M450.0 405.1h0M451.9 439.1h0M440.8 434.7h0M437.2 435.6h0M444.3 435.9h0M442.7 417.7h0M425.4 432.8h0M440.6 434.6h0M445.6 438.7h0M441.9 430.3h0M429.1 435.3h0M441.6 430.0h0M438.8 433.9h0M440.2 425.7h0M440.4 415.8h0M438.9 432.0h0M452.7 421.5h0M429.6 411.4h0M430.4 428.2h0M427.1 434.3h0M443.1 437.6h0M424.0 437.7h0M443.0 406.3h0M448.8 439.5h0M423.0 431.1h0M424.3 415.3h0M425.4 438.1h0M438.3 436.6h0M431.5 438.9h0M443.5 433.2h0M442.4 430.5h0M430.1 439.3h0M428.6 428.1h0M436.8 435.8h0M446.9 431.8h0M442.1 424.7h0M445.3 433.6h0M427.1 434.2h0M424.7 434.7h0M447.0 436.5h0M449.0 432.0h0M441.5 428.7h0M438.6 425.4h0M439.7 428.9h0M438.7 419.4h0M432.0 432.9h0M437.0 436.2h0M456.6 436.0h0M431.8 432.8h0M432.1 434.4h0M432.3 437.0h0M431.4 430.4h0M423.8 414.1h0M442.4 422.2h0M423.1 429.2h0M429.3 433.1h0M426.3 428.7h0M450.1 426.6h0M440.6 429.6h0M437.2 436.6h0M422.7 417.8h0M444.6 436.6h0M428.9 433.7h0M423.5 435.5h0M439.2 417.9h0M428.9 438.1h0M439.0 428.6h0M431.0 438.5h0M422.9 439.2h0M449.4 435.5h0M439.9 436.9h0M423.8 427.5h0M442.7 433.3h0M437.5 437.9h0M420.0 438.8h0M429.4 429.9h0M422.7 425.1h0M440.8 436.4h0M419.7 426.6h0M441.7 431.0h0M439.3 432.7h0M437.6 438.4h0M443.5 439.0h0M430.4 417.2h0M438.9 431.9h0M445.8 438.9h0M423.0 412.6h0M431.4 436.4h0M440.2 434.4h0M430.7 427.0h0"/>
<path stroke="#acd78f" stroke-width="1.70" stroke-linecap="round" fill="none" d="M420.5 376.8h0M416.8 378.4h0M424.3 378.3h0M425.1 378.4h0M421.8 381.4h0M428.3 380.1h0M426.7 384.3h0M426.0 385.1h0M423.6 385.6h0M419.9 387.2h0M425.6 387.2h0M420.5 390.6h0M419.7 391.9h0M421.4 391.9h0M422.6 392.3h0M425.1 393.5h0M429.3 391.9h0M423.9 396.1h0M426.7 395.6h0M428.1 397.3h0M417.6 399.4h0M419.7 400.7h0M422.6 400.3h0M423.9 401.1h0M425.1 398.6h0M426.0 399.4h0M428.9 399.4h0M429.8 399.4h0M428.5 401.1h0M421.5 335.2h0M421.5 337.7h0M420.0 346.9h0M421.9 358.0h0M423.4 357.3h0M417.7 361.8h0M417.9 316.9h0"/>
<path stroke="#1f9c43" stroke-width="1.80" stroke-linecap="round" fill="none" d="M413.9 306.5h0M408.7 352.4h0M414.0 353.3h0M411.3 372.1h0M414.4 400.7h0"/>
<path stroke="#f8a33a" stroke-width="1.70" stroke-linecap="round" fill="none" d="M451.0 328.3h0M448.7 337.5h0M451.7 346.7h0M449.5 352.4h0M445.9 358.0h0M451.7 358.0h0M453.9 358.0h0M452.6 363.3h0M454.1 364.7h0M450.3 369.9h0M453.6 368.3h0M448.4 373.7h0M441.8 375.1h0M444.2 374.6h0M444.6 377.0h0M449.8 380.0h0M453.1 379.3h0M452.2 384.1h0M443.7 386.9h0M445.1 387.8h0M446.0 389.2h0M443.2 392.1h0M442.7 394.0h0M444.2 395.4h0M446.0 392.5h0M446.5 394.9h0M448.9 392.1h0M449.8 394.0h0M451.7 392.1h0M452.6 393.5h0M451.2 395.8h0M439.4 394.9h0M440.8 397.7h0M441.3 398.7h0M439.9 400.6h0M445.1 398.7h0M446.5 399.6h0M447.9 398.7h0M448.9 400.6h0M446.0 401.0h0M447.5 401.5h0M450.3 400.6h0M452.6 400.1h0M452.2 401.5h0M448.4 396.3h0M449.8 397.3h0M453.1 389.7h0M453.2 363.1h0M453.7 368.2h0M450.2 370.4h0M448.3 373.6h0M449.6 380.2h0M452.9 379.4h0M452.1 384.2h0M441.0 390.0h0M444.5 390.5h0M447.5 386.0h0"/>
<path stroke="#ec3a26" stroke-width="1.70" stroke-linecap="round" fill="none" d="M483.6 260.9h0M490.0 260.9h0M469.5 282.2h0M493.6 315.8h0M469.1 325.5h0M469.0 325.2h0M469.9 334.0h0M455.7 335.3h0M487.3 335.3h0M478.6 338.9h0M471.7 341.3h0M467.0 347.3h0M470.3 346.2h0M472.8 345.3h0M456.5 349.2h0M480.1 352.0h0M476.1 355.1h0M469.9 356.5h0M462.5 358.0h0M467.9 359.3h0M474.2 358.9h0M484.3 357.3h0M455.9 362.5h0M457.0 362.0h0M454.8 363.6h0M464.6 365.6h0M466.8 364.9h0M467.9 364.2h0M470.3 367.1h0M482.1 365.3h0M461.1 369.6h0M461.1 370.0h0M470.3 367.4h0M470.3 370.0h0M473.9 372.2h0M461.1 373.6h0M469.0 374.7h0M469.2 375.8h0M478.3 376.6h0M457.5 378.3h0M459.7 380.2h0M463.8 379.1h0M459.0 382.4h0M462.2 382.1h0M471.7 381.0h0M474.7 380.2h0M456.8 384.2h0M459.4 384.5h0M472.8 383.7h0M466.6 385.3h0M467.4 386.7h0M472.1 387.5h0M477.7 388.1h0M454.3 389.2h0M456.8 389.7h0M459.0 388.6h0M460.1 388.1h0M462.5 388.6h0M464.4 389.5h0M466.8 389.2h0M454.6 392.5h0M463.3 391.6h0M467.4 391.6h0M461.6 394.7h0M462.5 396.5h0M467.9 396.2h0M470.6 394.7h0M473.9 396.5h0M482.6 396.2h0M457.0 397.6h0M457.5 399.5h0M457.9 401.2h0M455.4 363.3h0M456.5 362.2h0M465.2 365.2h0M467.4 364.9h0M455.5 362.8h0M456.9 361.9h0M464.4 365.7h0M461.1 373.7h0M457.4 378.4h0M459.7 380.3h0M458.8 382.2h0M459.2 384.1h0M458.3 385.0h0M462.5 382.2h0M463.5 379.3h0M456.9 384.1h0M454.5 388.8h0M458.3 388.8h0M460.2 388.3h0M463.0 388.8h0M464.4 389.2h0M454.5 392.5h0M463.0 391.6h0M461.6 394.9h0M462.5 396.3h0M457.4 397.3h0M457.8 399.2h0M457.8 401.0h0M454.5 363.6h0M454.5 389.2h0M454.5 392.4h0"/>
<rect x="57" y="8.4" width="213.90" height="191.00" fill="none" stroke="#979797" stroke-width="1.2"/>
<line x1="53.50" y1="192.30" x2="57.00" y2="192.30" stroke="#979797" stroke-width="1"/>
<text transform="translate(49.70,193.60) scale(0.856,1)" font-size="8.6" fill="#1e1e1e" stroke="#1e1e1e" stroke-width="0.18" text-anchor="end">0</text>
<line x1="53.50" y1="167.60" x2="57.00" y2="167.60" stroke="#979797" stroke-width="1"/>
<text transform="translate(49.70,168.90) scale(0.856,1)" font-size="8.6" fill="#1e1e1e" stroke="#1e1e1e" stroke-width="0.18" text-anchor="end">1</text>
<line x1="53.50" y1="142.90" x2="57.00" y2="142.90" stroke="#979797" stroke-width="1"/>
<text transform="translate(49.70,144.20) scale(0.856,1)" font-size="8.6" fill="#1e1e1e" stroke="#1e1e1e" stroke-width="0.18" text-anchor="end">2</text>
<line x1="53.50" y1="118.20" x2="57.00" y2="118.20" stroke="#979797" stroke-width="1"/>
<text transform="translate(49.70,119.50) scale(0.856,1)" font-size="8.6" fill="#1e1e1e" stroke="#1e1e1e" stroke-width="0.18" text-anchor="end">3</text>
<line x1="53.50" y1="93.50" x2="57.00" y2="93.50" stroke="#979797" stroke-width="1"/>
<text transform="translate(49.70,94.80) scale(0.856,1)" font-size="8.6" fill="#1e1e1e" stroke="#1e1e1e" stroke-width="0.18" text-anchor="end">4</text>
<line x1="53.50" y1="68.80" x2="57.00" y2="68.80" stroke="#979797" stroke-width="1"/>
<text transform="translate(49.70,70.10) scale(0.856,1)" font-size="8.6" fill="#1e1e1e" stroke="#1e1e1e" stroke-width="0.18" text-anchor="end">5</text>
<line x1="53.50" y1="44.10" x2="57.00" y2="44.10" stroke="#979797" stroke-width="1"/>
<text transform="translate(49.70,45.40) scale(0.856,1)" font-size="8.6" fill="#1e1e1e" stroke="#1e1e1e" stroke-width="0.18" text-anchor="end">6</text>
<line x1="53.50" y1="19.40" x2="57.00" y2="19.40" stroke="#979797" stroke-width="1"/>
<text transform="translate(49.70,20.70) scale(0.856,1)" font-size="8.6" fill="#1e1e1e" stroke="#1e1e1e" stroke-width="0.18" text-anchor="end">7</text>
<line x1="64.50" y1="199.40" x2="64.50" y2="202.90" stroke="#979797" stroke-width="1"/>
<text transform="translate(64.50,211.60) scale(0.884,1)" font-size="8.6" fill="#1e1e1e" stroke="#1e1e1e" stroke-width="0.18" text-anchor="middle">-0.1</text>
<line x1="114.12" y1="199.40" x2="114.12" y2="202.90" stroke="#979797" stroke-width="1"/>
<text transform="translate(114.12,211.60) scale(0.884,1)" font-size="8.6" fill="#1e1e1e" stroke="#1e1e1e" stroke-width="0.18" text-anchor="middle">-0.5</text>
<line x1="163.75" y1="199.40" x2="163.75" y2="202.90" stroke="#979797" stroke-width="1"/>
<text transform="translate(163.75,211.60) scale(0.884,1)" font-size="8.6" fill="#1e1e1e" stroke="#1e1e1e" stroke-width="0.18" text-anchor="middle">0.0</text>
<line x1="213.38" y1="199.40" x2="213.38" y2="202.90" stroke="#979797" stroke-width="1"/>
<text transform="translate(213.38,211.60) scale(0.884,1)" font-size="8.6" fill="#1e1e1e" stroke="#1e1e1e" stroke-width="0.18" text-anchor="middle">0.5</text>
<line x1="263.00" y1="199.40" x2="263.00" y2="202.90" stroke="#979797" stroke-width="1"/>
<text transform="translate(263.00,211.60) scale(0.884,1)" font-size="8.6" fill="#1e1e1e" stroke="#1e1e1e" stroke-width="0.18" text-anchor="middle">1.0</text>
<rect x="331.4" y="8.3" width="213.80" height="191.60" fill="none" stroke="#979797" stroke-width="1.2"/>
<line x1="327.90" y1="193.00" x2="331.40" y2="193.00" stroke="#979797" stroke-width="1"/>
<text transform="translate(324.50,195.40) scale(0.856,1)" font-size="8.6" fill="#1e1e1e" stroke="#1e1e1e" stroke-width="0.18" text-anchor="end">0</text>
<line x1="327.90" y1="168.05" x2="331.40" y2="168.05" stroke="#979797" stroke-width="1"/>
<text transform="translate(324.50,170.45) scale(0.856,1)" font-size="8.6" fill="#1e1e1e" stroke="#1e1e1e" stroke-width="0.18" text-anchor="end">1</text>
<line x1="327.90" y1="143.10" x2="331.40" y2="143.10" stroke="#979797" stroke-width="1"/>
<text transform="translate(324.50,145.50) scale(0.856,1)" font-size="8.6" fill="#1e1e1e" stroke="#1e1e1e" stroke-width="0.18" text-anchor="end">2</text>
<line x1="327.90" y1="118.15" x2="331.40" y2="118.15" stroke="#979797" stroke-width="1"/>
<text transform="translate(324.50,120.55) scale(0.856,1)" font-size="8.6" fill="#1e1e1e" stroke="#1e1e1e" stroke-width="0.18" text-anchor="end">3</text>
<line x1="327.90" y1="93.20" x2="331.40" y2="93.20" stroke="#979797" stroke-width="1"/>
<text transform="translate(324.50,95.60) scale(0.856,1)" font-size="8.6" fill="#1e1e1e" stroke="#1e1e1e" stroke-width="0.18" text-anchor="end">4</text>
<line x1="327.90" y1="68.25" x2="331.40" y2="68.25" stroke="#979797" stroke-width="1"/>
<text transform="translate(324.50,70.65) scale(0.856,1)" font-size="8.6" fill="#1e1e1e" stroke="#1e1e1e" stroke-width="0.18" text-anchor="end">5</text>
<line x1="327.90" y1="43.30" x2="331.40" y2="43.30" stroke="#979797" stroke-width="1"/>
<text transform="translate(324.50,45.70) scale(0.856,1)" font-size="8.6" fill="#1e1e1e" stroke="#1e1e1e" stroke-width="0.18" text-anchor="end">6</text>
<line x1="327.90" y1="18.35" x2="331.40" y2="18.35" stroke="#979797" stroke-width="1"/>
<text transform="translate(324.50,20.75) scale(0.856,1)" font-size="8.6" fill="#1e1e1e" stroke="#1e1e1e" stroke-width="0.18" text-anchor="end">7</text>
<line x1="339.50" y1="199.90" x2="339.50" y2="203.40" stroke="#979797" stroke-width="1"/>
<text transform="translate(339.50,212.10) scale(0.884,1)" font-size="8.6" fill="#1e1e1e" stroke="#1e1e1e" stroke-width="0.18" text-anchor="middle">-0.1</text>
<line x1="388.97" y1="199.90" x2="388.97" y2="203.40" stroke="#979797" stroke-width="1"/>
<text transform="translate(388.97,212.10) scale(0.884,1)" font-size="8.6" fill="#1e1e1e" stroke="#1e1e1e" stroke-width="0.18" text-anchor="middle">-0.5</text>
<line x1="438.45" y1="199.90" x2="438.45" y2="203.40" stroke="#979797" stroke-width="1"/>
<text transform="translate(438.45,212.10) scale(0.884,1)" font-size="8.6" fill="#1e1e1e" stroke="#1e1e1e" stroke-width="0.18" text-anchor="middle">0.0</text>
<line x1="487.93" y1="199.90" x2="487.93" y2="203.40" stroke="#979797" stroke-width="1"/>
<text transform="translate(487.93,212.10) scale(0.884,1)" font-size="8.6" fill="#1e1e1e" stroke="#1e1e1e" stroke-width="0.18" text-anchor="middle">0.5</text>
<line x1="537.40" y1="199.90" x2="537.40" y2="203.40" stroke="#979797" stroke-width="1"/>
<text transform="translate(537.40,212.10) scale(0.884,1)" font-size="8.6" fill="#1e1e1e" stroke="#1e1e1e" stroke-width="0.18" text-anchor="middle">1.0</text>
<rect x="54" y="255.2" width="213.30" height="191.20" fill="none" stroke="#979797" stroke-width="1.2"/>
<line x1="50.50" y1="261.60" x2="54.00" y2="261.60" stroke="#979797" stroke-width="1"/>
<text transform="translate(46.70,264.00) scale(0.856,1)" font-size="8.6" fill="#1e1e1e" stroke="#1e1e1e" stroke-width="0.18" text-anchor="end">1.0</text>
<line x1="50.50" y1="305.98" x2="54.00" y2="305.98" stroke="#979797" stroke-width="1"/>
<text transform="translate(46.70,308.38) scale(0.856,1)" font-size="8.6" fill="#1e1e1e" stroke="#1e1e1e" stroke-width="0.18" text-anchor="end">0.5</text>
<line x1="50.50" y1="350.35" x2="54.00" y2="350.35" stroke="#979797" stroke-width="1"/>
<text transform="translate(46.70,352.75) scale(0.856,1)" font-size="8.6" fill="#1e1e1e" stroke="#1e1e1e" stroke-width="0.18" text-anchor="end">0.0</text>
<line x1="50.50" y1="394.73" x2="54.00" y2="394.73" stroke="#979797" stroke-width="1"/>
<text transform="translate(46.70,397.12) scale(0.856,1)" font-size="8.6" fill="#1e1e1e" stroke="#1e1e1e" stroke-width="0.18" text-anchor="end">-0.5</text>
<line x1="50.50" y1="439.10" x2="54.00" y2="439.10" stroke="#979797" stroke-width="1"/>
<text transform="translate(46.70,441.50) scale(0.856,1)" font-size="8.6" fill="#1e1e1e" stroke="#1e1e1e" stroke-width="0.18" text-anchor="end">-1.0</text>
<line x1="105.50" y1="446.40" x2="105.50" y2="449.90" stroke="#979797" stroke-width="1"/>
<text transform="translate(105.50,458.90) scale(0.884,1)" font-size="8.6" fill="#1e1e1e" stroke="#1e1e1e" stroke-width="0.18" text-anchor="middle">-0.5</text>
<line x1="160.40" y1="446.40" x2="160.40" y2="449.90" stroke="#979797" stroke-width="1"/>
<text transform="translate(160.40,458.90) scale(0.884,1)" font-size="8.6" fill="#1e1e1e" stroke="#1e1e1e" stroke-width="0.18" text-anchor="middle">0.0</text>
<line x1="215.30" y1="446.40" x2="215.30" y2="449.90" stroke="#979797" stroke-width="1"/>
<text transform="translate(215.30,458.90) scale(0.884,1)" font-size="8.6" fill="#1e1e1e" stroke="#1e1e1e" stroke-width="0.18" text-anchor="middle">0.5</text>
<rect x="326.9" y="253.9" width="214.90" height="192.50" fill="none" stroke="#979797" stroke-width="1.2"/>
<line x1="323.40" y1="439.10" x2="326.90" y2="439.10" stroke="#979797" stroke-width="1"/>
<text transform="translate(318.90,442.00) scale(0.856,1)" font-size="8.6" fill="#1e1e1e" stroke="#1e1e1e" stroke-width="0.18" text-anchor="end">0</text>
<line x1="323.40" y1="410.48" x2="326.90" y2="410.48" stroke="#979797" stroke-width="1"/>
<text transform="translate(318.90,413.38) scale(0.856,1)" font-size="8.6" fill="#1e1e1e" stroke="#1e1e1e" stroke-width="0.18" text-anchor="end">1</text>
<line x1="323.40" y1="381.86" x2="326.90" y2="381.86" stroke="#979797" stroke-width="1"/>
<text transform="translate(318.90,384.76) scale(0.856,1)" font-size="8.6" fill="#1e1e1e" stroke="#1e1e1e" stroke-width="0.18" text-anchor="end">2</text>
<line x1="323.40" y1="353.24" x2="326.90" y2="353.24" stroke="#979797" stroke-width="1"/>
<text transform="translate(318.90,356.14) scale(0.856,1)" font-size="8.6" fill="#1e1e1e" stroke="#1e1e1e" stroke-width="0.18" text-anchor="end">3</text>
<line x1="323.40" y1="324.62" x2="326.90" y2="324.62" stroke="#979797" stroke-width="1"/>
<text transform="translate(318.90,327.52) scale(0.856,1)" font-size="8.6" fill="#1e1e1e" stroke="#1e1e1e" stroke-width="0.18" text-anchor="end">4</text>
<line x1="323.40" y1="296.00" x2="326.90" y2="296.00" stroke="#979797" stroke-width="1"/>
<text transform="translate(318.90,298.90) scale(0.856,1)" font-size="8.6" fill="#1e1e1e" stroke="#1e1e1e" stroke-width="0.18" text-anchor="end">5</text>
<line x1="323.40" y1="267.38" x2="326.90" y2="267.38" stroke="#979797" stroke-width="1"/>
<text transform="translate(318.90,270.28) scale(0.856,1)" font-size="8.6" fill="#1e1e1e" stroke="#1e1e1e" stroke-width="0.18" text-anchor="end">6</text>
<line x1="334.50" y1="446.40" x2="334.50" y2="449.90" stroke="#979797" stroke-width="1"/>
<text transform="translate(334.50,457.50) scale(0.884,1)" font-size="8.6" fill="#1e1e1e" stroke="#1e1e1e" stroke-width="0.18" text-anchor="middle">-0.1</text>
<line x1="384.38" y1="446.40" x2="384.38" y2="449.90" stroke="#979797" stroke-width="1"/>
<text transform="translate(384.38,457.50) scale(0.884,1)" font-size="8.6" fill="#1e1e1e" stroke="#1e1e1e" stroke-width="0.18" text-anchor="middle">-0.5</text>
<line x1="434.25" y1="446.40" x2="434.25" y2="449.90" stroke="#979797" stroke-width="1"/>
<text transform="translate(434.25,457.50) scale(0.884,1)" font-size="8.6" fill="#1e1e1e" stroke="#1e1e1e" stroke-width="0.18" text-anchor="middle">0.0</text>
<line x1="484.12" y1="446.40" x2="484.12" y2="449.90" stroke="#979797" stroke-width="1"/>
<text transform="translate(484.12,457.50) scale(0.884,1)" font-size="8.6" fill="#1e1e1e" stroke="#1e1e1e" stroke-width="0.18" text-anchor="middle">0.5</text>
<line x1="534.00" y1="446.40" x2="534.00" y2="449.90" stroke="#979797" stroke-width="1"/>
<text transform="translate(534.00,457.50) scale(0.884,1)" font-size="8.6" fill="#1e1e1e" stroke="#1e1e1e" stroke-width="0.18" text-anchor="middle">1.0</text>
<line x1="54" y1="350.5" x2="267.3" y2="350.5" stroke="#5a5a5a" stroke-width="1"/>
<line x1="160.5" y1="255.2" x2="160.5" y2="446.4" stroke="#5a5a5a" stroke-width="1"/>
<text x="3.0" y="14.9" font-size="14" font-weight="bold" fill="#000">A</text>
<text x="293.8" y="14.9" font-size="14" font-weight="bold" fill="#000">B</text>
<text x="3.4" y="258.9" font-size="14" font-weight="bold" fill="#000">C</text>
<text x="294.8" y="258.9" font-size="14" font-weight="bold" fill="#000">D</text>
<text transform="translate(57.6,225.4) scale(0.95,1)" font-size="8.45" font-weight="bold" fill="#111" stroke="#111" stroke-width="0.3" textLength="221.5" lengthAdjust="spacingAndGlyphs">BMSC OS average DNAm − Early BMSC average DNAm</text>
<text transform="translate(332.4,225.4) scale(0.95,1)" font-size="8.45" font-weight="bold" fill="#111" stroke="#111" stroke-width="0.3" textLength="221.1" lengthAdjust="spacingAndGlyphs">BMSC AD average DNAm − Early BMSC average DNAm</text>
<text transform="translate(30.0,472.9) scale(0.95,1)" font-size="8.45" font-weight="bold" fill="#111" stroke="#111" stroke-width="0.3" textLength="269.3" lengthAdjust="spacingAndGlyphs">BMSC AD average DNAm value − Early BMSC average DNAm value</text>
<text transform="translate(333.3,472.9) scale(0.95,1)" font-size="8.45" font-weight="bold" fill="#111" stroke="#111" stroke-width="0.3" textLength="213.2" lengthAdjust="spacingAndGlyphs">BMSC AD average DNAm − BMSC OS average DNAm</text>
<text transform="translate(28.1,133.9) rotate(-90)" font-size="8.4" font-weight="bold" fill="#111" stroke="#111" stroke-width="0.3">−Log10(q-value)</text>
<text transform="translate(309.0,134.0) rotate(-90)" font-size="8.4" font-weight="bold" fill="#111" stroke="#111" stroke-width="0.3">−Log10(q-value)</text>
<text transform="translate(308.1,385.0) rotate(-90)" font-size="8.4" font-weight="bold" fill="#111" stroke="#111" stroke-width="0.3">−Log10(q-value)</text>
<text transform="translate(19.5,411.0) rotate(-90)" font-size="7.9" font-weight="bold" fill="#111" stroke="#111" stroke-width="0.3">BMSC OS average DNAm value −</text>
<text transform="translate(29.8,415.6) rotate(-90)" font-size="8" font-weight="bold" fill="#111" stroke="#111" stroke-width="0.3">Early BMSC average DNAm value</text>
</svg></body></html>
